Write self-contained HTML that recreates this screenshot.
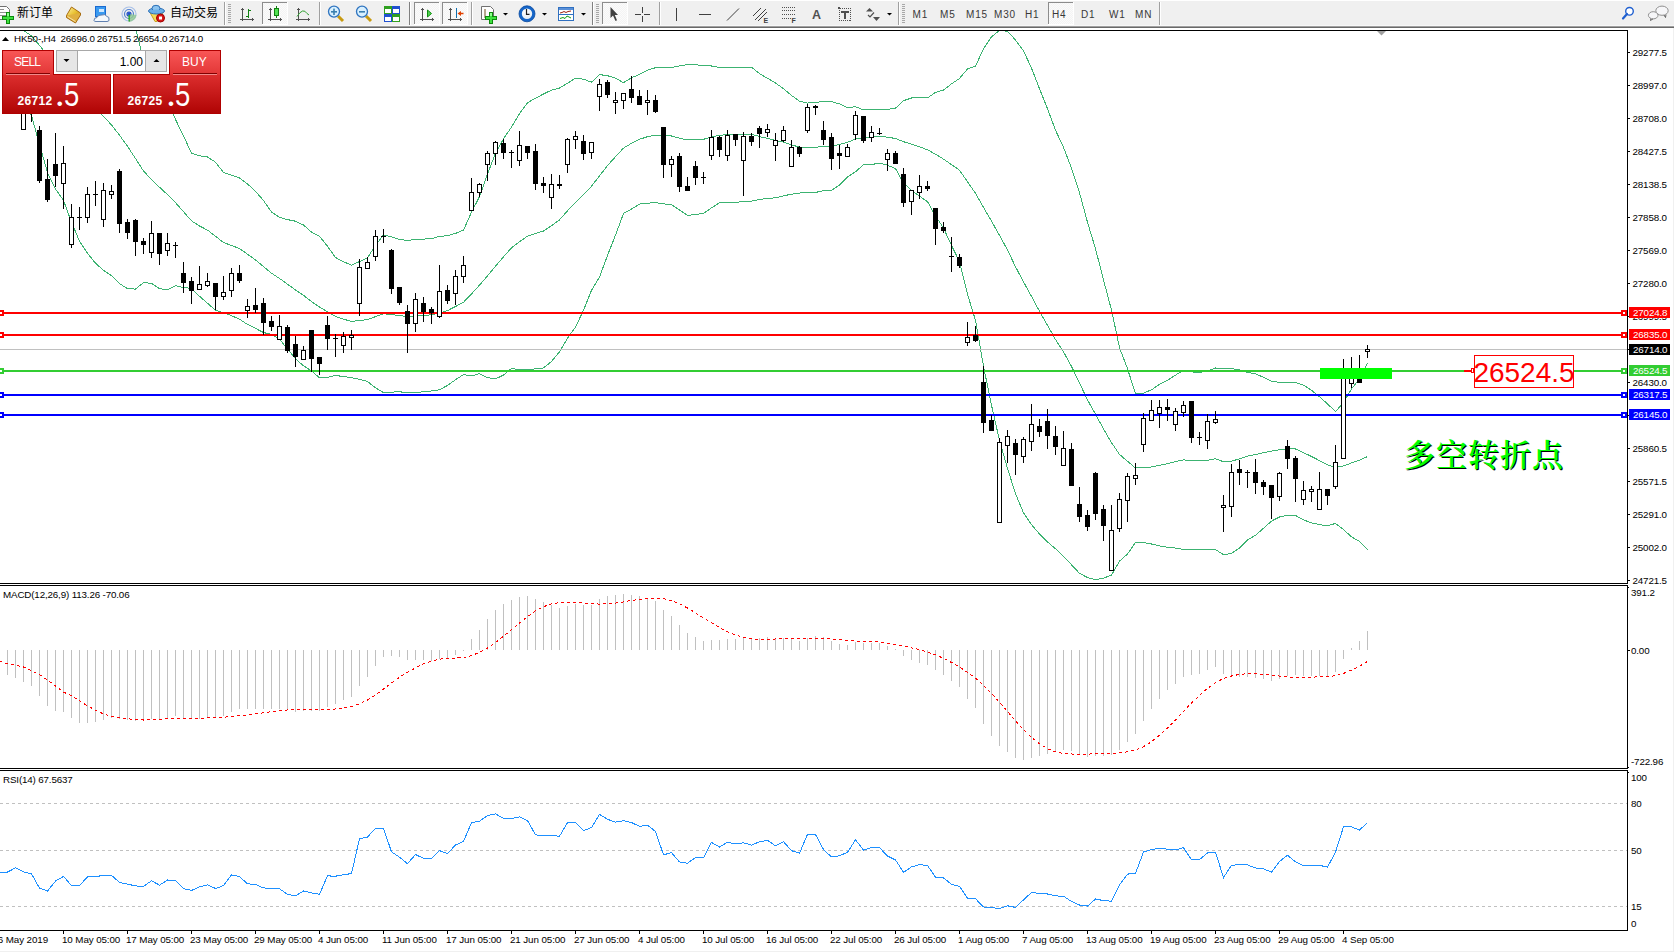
<!DOCTYPE html>
<html><head><meta charset="utf-8"><title>HK50-,H4</title>
<style>
html,body{margin:0;padding:0;}
body{width:1674px;height:952px;overflow:hidden;position:relative;background:#fff;font-family:"Liberation Sans","Noto Sans CJK SC",sans-serif;}
#tb{position:absolute;left:0;top:0;width:1674px;height:28px;background:#f0f0f0;}
#tb .b1{position:absolute;left:0;top:25px;width:1674px;height:1px;background:#f7f7f7}
#tb .b2{position:absolute;left:0;top:26px;width:1674px;height:1px;background:#a0a0a0}
#tb .b3{position:absolute;left:0;top:27px;width:1674px;height:1px;background:#696969}
</style></head><body>
<svg width="1674" height="952" viewBox="0 0 1674 952" style="position:absolute;left:0;top:0" shape-rendering="crispEdges">
<rect x="0" y="28" width="1674" height="924" fill="#fff"/>
<rect x="1673" y="27" width="1" height="925" fill="#f0f0f0"/>
<rect x="0" y="951" width="1674" height="1" fill="#f0f0f0"/>
<defs><clipPath id="cm"><rect x="0" y="31" width="1627" height="552"/></clipPath><clipPath id="cd"><rect x="0" y="586" width="1627" height="182"/></clipPath><clipPath id="cr"><rect x="0" y="771" width="1627" height="159"/></clipPath></defs>
<g clip-path="url(#cm)">
<polyline points="-0.5,-41.7 7.5,-42.2 15.5,-42.7 23.5,-43.6 31.5,-43.7 39.5,-53.8 47.5,-62.0 55.5,-60.0 63.5,-54.9 71.5,-56.7 79.5,-57.0 87.5,-53.6 95.5,-47.0 103.5,-37.5 111.5,-25.9 119.5,-13.1 127.5,3.8 135.5,27.9 143.5,59.5 151.5,75.4 159.5,85.7 167.5,99.6 175.5,119.5 183.5,135.8 191.5,153.3 199.5,155.7 207.5,157.0 215.5,162.1 223.5,172.6 231.5,175.2 239.5,178.0 247.5,183.9 255.5,191.4 263.5,200.5 271.5,212.0 279.5,217.4 287.5,219.6 295.5,221.2 303.5,225.0 311.5,232.1 319.5,236.3 327.5,246.2 335.5,257.5 343.5,261.8 351.5,265.1 359.5,261.6 367.5,257.7 375.5,245.4 383.5,235.0 391.5,236.9 399.5,239.5 407.5,240.4 415.5,239.6 423.5,239.1 431.5,238.6 439.5,236.4 447.5,235.7 455.5,233.4 463.5,230.1 471.5,212.1 479.5,196.7 487.5,174.1 495.5,153.3 503.5,138.8 511.5,127.1 519.5,113.6 527.5,102.8 535.5,98.2 543.5,94.0 551.5,90.1 559.5,88.0 567.5,83.3 575.5,78.2 583.5,79.2 591.5,82.2 599.5,74.6 607.5,75.7 615.5,78.2 623.5,82.7 631.5,77.7 639.5,74.5 647.5,70.1 655.5,67.7 663.5,67.4 671.5,67.4 679.5,66.0 687.5,64.6 695.5,64.9 703.5,65.3 711.5,66.0 719.5,67.5 727.5,67.3 735.5,67.4 743.5,67.1 751.5,67.1 759.5,73.6 767.5,78.3 775.5,83.0 783.5,88.7 791.5,95.4 799.5,101.3 807.5,103.1 815.5,102.3 823.5,101.6 831.5,101.7 839.5,103.9 847.5,107.6 855.5,106.7 863.5,110.0 871.5,109.7 879.5,109.5 887.5,109.3 895.5,108.2 903.5,100.7 911.5,98.0 919.5,97.5 927.5,97.9 935.5,92.4 943.5,90.1 951.5,83.8 959.5,78.5 967.5,68.9 975.5,66.3 983.5,48.7 991.5,36.9 999.5,30.4 1007.5,31.3 1015.5,40.0 1023.5,50.9 1031.5,68.1 1039.5,88.7 1047.5,108.8 1055.5,130.2 1063.5,147.3 1071.5,168.2 1079.5,192.8 1087.5,222.3 1095.5,248.7 1103.5,279.9 1111.5,310.1 1119.5,347.6 1127.5,368.7 1135.5,393.7 1143.5,393.1 1151.5,389.8 1159.5,384.4 1167.5,380.3 1175.5,375.1 1183.5,370.4 1191.5,371.9 1199.5,372.6 1207.5,371.0 1215.5,368.0 1223.5,368.8 1231.5,368.6 1239.5,369.8 1247.5,372.3 1255.5,373.9 1263.5,377.2 1271.5,381.1 1279.5,382.5 1287.5,382.6 1295.5,382.5 1303.5,385.2 1311.5,390.2 1319.5,396.8 1327.5,403.9 1335.5,411.6 1343.5,402.4 1351.5,388.9 1359.5,379.0 1367.5,363.3" fill="none" stroke="#3cb371" stroke-width="1" />
<polyline points="-0.5,16.3 7.5,20.7 15.5,25.2 23.5,30.4 31.5,35.9 39.5,45.3 47.5,55.3 55.5,64.5 63.5,72.8 71.5,82.8 79.5,92.1 87.5,99.8 95.5,108.1 103.5,116.4 111.5,124.9 119.5,135.2 127.5,146.3 135.5,158.5 143.5,171.1 151.5,179.4 159.5,187.2 167.5,194.6 175.5,202.6 183.5,211.7 191.5,220.8 199.5,226.0 207.5,230.1 215.5,236.2 223.5,242.6 231.5,245.4 239.5,248.6 247.5,254.2 255.5,259.9 263.5,266.5 271.5,273.2 279.5,278.4 287.5,284.2 295.5,290.0 303.5,295.3 311.5,301.6 319.5,307.0 327.5,311.8 335.5,316.4 343.5,319.2 351.5,321.4 359.5,320.5 367.5,319.6 375.5,316.6 383.5,313.8 391.5,314.5 399.5,315.6 407.5,316.5 415.5,316.0 423.5,315.5 431.5,314.8 439.5,313.1 447.5,310.6 455.5,306.5 463.5,302.3 471.5,294.0 479.5,285.1 487.5,275.9 495.5,266.1 503.5,256.9 511.5,247.8 519.5,241.7 527.5,236.2 535.5,233.5 543.5,231.0 551.5,225.8 559.5,219.9 567.5,210.8 575.5,202.6 583.5,194.7 591.5,186.2 599.5,175.9 607.5,165.6 615.5,156.7 623.5,148.1 631.5,143.3 639.5,139.3 647.5,136.7 655.5,135.1 663.5,135.7 671.5,136.0 679.5,138.1 687.5,140.0 695.5,139.7 703.5,139.3 711.5,137.0 719.5,135.1 727.5,134.9 735.5,135.0 743.5,134.2 751.5,134.1 759.5,136.6 767.5,138.4 775.5,140.4 783.5,142.2 791.5,144.8 799.5,147.2 807.5,147.6 815.5,147.4 823.5,146.1 831.5,146.0 839.5,144.5 847.5,142.3 855.5,139.2 863.5,137.4 871.5,137.1 879.5,136.3 887.5,137.2 895.5,138.5 903.5,141.7 911.5,144.2 919.5,146.8 927.5,149.8 935.5,154.2 943.5,159.1 951.5,164.6 959.5,170.2 967.5,181.7 975.5,193.3 983.5,207.4 991.5,221.1 999.5,235.4 1007.5,249.9 1015.5,266.8 1023.5,281.8 1031.5,296.4 1039.5,311.3 1047.5,325.3 1055.5,339.5 1063.5,351.8 1071.5,366.5 1079.5,383.0 1087.5,399.9 1095.5,414.2 1103.5,429.0 1111.5,442.6 1119.5,454.4 1127.5,461.3 1135.5,468.0 1143.5,467.9 1151.5,466.9 1159.5,465.2 1167.5,463.8 1175.5,461.6 1183.5,459.9 1191.5,460.6 1199.5,460.9 1207.5,460.2 1215.5,458.8 1223.5,461.7 1231.5,461.1 1239.5,458.9 1247.5,456.1 1255.5,454.6 1263.5,452.7 1271.5,451.1 1279.5,449.8 1287.5,448.8 1295.5,449.0 1303.5,452.6 1311.5,456.5 1319.5,460.6 1327.5,464.9 1335.5,467.5 1343.5,466.0 1351.5,462.9 1359.5,460.2 1367.5,456.6" fill="none" stroke="#3cb371" stroke-width="1" />
<polyline points="-0.5,74.3 7.5,83.7 15.5,93.0 23.5,104.3 31.5,115.6 39.5,144.4 47.5,172.6 55.5,189.0 63.5,200.4 71.5,222.3 79.5,241.2 87.5,253.2 95.5,263.2 103.5,270.4 111.5,275.7 119.5,283.5 127.5,288.7 135.5,289.1 143.5,282.6 151.5,283.3 159.5,288.7 167.5,289.6 175.5,285.7 183.5,287.6 191.5,288.3 199.5,296.3 207.5,303.2 215.5,310.3 223.5,312.6 231.5,315.7 239.5,319.2 247.5,324.4 255.5,328.4 263.5,332.5 271.5,334.5 279.5,339.3 287.5,348.9 295.5,358.9 303.5,365.7 311.5,371.0 319.5,377.7 327.5,377.3 335.5,375.4 343.5,376.6 351.5,377.6 359.5,379.4 367.5,381.5 375.5,387.8 383.5,392.6 391.5,392.1 399.5,391.8 407.5,392.6 415.5,392.4 423.5,391.8 431.5,391.0 439.5,389.7 447.5,385.5 455.5,379.7 463.5,374.6 471.5,376.0 479.5,373.6 487.5,377.7 495.5,378.9 503.5,375.1 511.5,368.5 519.5,369.8 527.5,369.6 535.5,368.9 543.5,367.9 551.5,361.5 559.5,351.9 567.5,338.2 575.5,327.0 583.5,310.2 591.5,290.3 599.5,277.1 607.5,255.4 615.5,235.2 623.5,213.5 631.5,209.0 639.5,204.1 647.5,203.2 655.5,202.5 663.5,203.9 671.5,204.7 679.5,210.1 687.5,215.4 695.5,214.5 703.5,213.3 711.5,207.9 719.5,202.8 727.5,202.5 735.5,202.7 743.5,201.3 751.5,201.2 759.5,199.6 767.5,198.4 775.5,197.8 783.5,195.8 791.5,194.2 799.5,193.1 807.5,192.1 815.5,192.5 823.5,190.6 831.5,190.4 839.5,185.0 847.5,177.0 855.5,171.8 863.5,164.7 871.5,164.5 879.5,163.2 887.5,165.2 895.5,168.7 903.5,182.8 911.5,190.5 919.5,196.2 927.5,201.6 935.5,215.9 943.5,228.1 951.5,245.3 959.5,261.8 967.5,294.4 975.5,320.3 983.5,366.2 991.5,405.2 999.5,440.5 1007.5,468.5 1015.5,493.7 1023.5,512.8 1031.5,524.7 1039.5,533.9 1047.5,541.9 1055.5,548.8 1063.5,556.3 1071.5,564.8 1079.5,573.3 1087.5,577.6 1095.5,579.7 1103.5,578.1 1111.5,575.2 1119.5,561.1 1127.5,554.0 1135.5,542.4 1143.5,542.6 1151.5,544.0 1159.5,545.9 1167.5,547.3 1175.5,548.1 1183.5,549.4 1191.5,549.2 1199.5,549.1 1207.5,549.4 1215.5,549.6 1223.5,554.6 1231.5,553.5 1239.5,548.0 1247.5,540.0 1255.5,535.3 1263.5,528.2 1271.5,521.1 1279.5,517.0 1287.5,515.1 1295.5,515.4 1303.5,519.9 1311.5,522.9 1319.5,524.5 1327.5,525.9 1335.5,523.4 1343.5,529.6 1351.5,536.9 1359.5,541.4 1367.5,549.8" fill="none" stroke="#3cb371" stroke-width="1" />
<rect x="0" y="349" width="1627" height="1" fill="#c0c0c0"/>
<rect x="0" y="312" width="1627" height="2" fill="#ff0000"/>
<rect x="0" y="334" width="1627" height="2" fill="#ff0000"/>
<rect x="0" y="370" width="1627" height="2" fill="#32cd32"/>
<rect x="0" y="394" width="1627" height="2" fill="#0000ff"/>
<rect x="0" y="414" width="1627" height="2" fill="#0000ff"/>
<rect x="7" y="75" width="1" height="26" fill="#000"/>
<rect x="5" y="80" width="5" height="16" fill="#000"/>
<rect x="15" y="80" width="1" height="26" fill="#000"/>
<rect x="13.5" y="85.5" width="4" height="15" fill="#fff" stroke="#000"/>
<rect x="23" y="95" width="1" height="35" fill="#000"/>
<rect x="21.5" y="100.5" width="4" height="29" fill="#fff" stroke="#000"/>
<rect x="31" y="96" width="1" height="26" fill="#000"/>
<rect x="29" y="100" width="5" height="9" fill="#000"/>
<rect x="39" y="126" width="1" height="57" fill="#000"/>
<rect x="37" y="130" width="5" height="51" fill="#000"/>
<rect x="47" y="159" width="1" height="43" fill="#000"/>
<rect x="45" y="179" width="5" height="21" fill="#000"/>
<rect x="55" y="133" width="1" height="54" fill="#000"/>
<rect x="53" y="164" width="5" height="12" fill="#000"/>
<rect x="63" y="146" width="1" height="63" fill="#000"/>
<rect x="61.5" y="163.5" width="4" height="20" fill="#fff" stroke="#000"/>
<rect x="71" y="204" width="1" height="44" fill="#000"/>
<rect x="69.5" y="217.5" width="4" height="27" fill="#fff" stroke="#000"/>
<rect x="79" y="207" width="1" height="23" fill="#000"/>
<rect x="77" y="217" width="5" height="1" fill="#000"/>
<rect x="87" y="187" width="1" height="36" fill="#000"/>
<rect x="85.5" y="194.5" width="4" height="23" fill="#fff" stroke="#000"/>
<rect x="95" y="181" width="1" height="25" fill="#000"/>
<rect x="93" y="194" width="5" height="1" fill="#000"/>
<rect x="103" y="183" width="1" height="44" fill="#000"/>
<rect x="101.5" y="190.5" width="4" height="29" fill="#fff" stroke="#000"/>
<rect x="111" y="185" width="1" height="14" fill="#000"/>
<rect x="109.5" y="191.5" width="4" height="3" fill="#fff" stroke="#000"/>
<rect x="119" y="169" width="1" height="64" fill="#000"/>
<rect x="117" y="171" width="5" height="53" fill="#000"/>
<rect x="127" y="219" width="1" height="20" fill="#000"/>
<rect x="125" y="222" width="5" height="11" fill="#000"/>
<rect x="135" y="219" width="1" height="37" fill="#000"/>
<rect x="133" y="220" width="5" height="22" fill="#000"/>
<rect x="143" y="238" width="1" height="16" fill="#000"/>
<rect x="141" y="241" width="5" height="4" fill="#000"/>
<rect x="151" y="221" width="1" height="37" fill="#000"/>
<rect x="149.5" y="233.5" width="4" height="19" fill="#fff" stroke="#000"/>
<rect x="159" y="233" width="1" height="32" fill="#000"/>
<rect x="157" y="233" width="5" height="21" fill="#000"/>
<rect x="167" y="233" width="1" height="23" fill="#000"/>
<rect x="165.5" y="243.5" width="4" height="7" fill="#fff" stroke="#000"/>
<rect x="175" y="242" width="1" height="16" fill="#000"/>
<rect x="173" y="245" width="5" height="1" fill="#000"/>
<rect x="183" y="262" width="1" height="31" fill="#000"/>
<rect x="181" y="273" width="5" height="10" fill="#000"/>
<rect x="191" y="277" width="1" height="27" fill="#000"/>
<rect x="189" y="281" width="5" height="10" fill="#000"/>
<rect x="199" y="266" width="1" height="24" fill="#000"/>
<rect x="197.5" y="284.5" width="4" height="5" fill="#fff" stroke="#000"/>
<rect x="207" y="273" width="1" height="14" fill="#000"/>
<rect x="205.5" y="281.5" width="4" height="4" fill="#fff" stroke="#000"/>
<rect x="215" y="283" width="1" height="27" fill="#000"/>
<rect x="213" y="283" width="5" height="14" fill="#000"/>
<rect x="223" y="276" width="1" height="24" fill="#000"/>
<rect x="221.5" y="292.5" width="4" height="4" fill="#fff" stroke="#000"/>
<rect x="231" y="268" width="1" height="29" fill="#000"/>
<rect x="229.5" y="273.5" width="4" height="17" fill="#fff" stroke="#000"/>
<rect x="239" y="265" width="1" height="18" fill="#000"/>
<rect x="237" y="273" width="5" height="8" fill="#000"/>
<rect x="247" y="299" width="1" height="19" fill="#000"/>
<rect x="245.5" y="306.5" width="4" height="4" fill="#fff" stroke="#000"/>
<rect x="255" y="288" width="1" height="25" fill="#000"/>
<rect x="253" y="305" width="5" height="5" fill="#000"/>
<rect x="263" y="298" width="1" height="37" fill="#000"/>
<rect x="261" y="303" width="5" height="20" fill="#000"/>
<rect x="271" y="316" width="1" height="15" fill="#000"/>
<rect x="269" y="321" width="5" height="6" fill="#000"/>
<rect x="279" y="315" width="1" height="25" fill="#000"/>
<rect x="277.5" y="326.5" width="4" height="13" fill="#fff" stroke="#000"/>
<rect x="287" y="325" width="1" height="28" fill="#000"/>
<rect x="285" y="327" width="5" height="24" fill="#000"/>
<rect x="295" y="336" width="1" height="31" fill="#000"/>
<rect x="293" y="344" width="5" height="13" fill="#000"/>
<rect x="303" y="346" width="1" height="14" fill="#000"/>
<rect x="301.5" y="350.5" width="4" height="9" fill="#fff" stroke="#000"/>
<rect x="311" y="330" width="1" height="42" fill="#000"/>
<rect x="309" y="330" width="5" height="29" fill="#000"/>
<rect x="319" y="357" width="1" height="18" fill="#000"/>
<rect x="317" y="357" width="5" height="7" fill="#000"/>
<rect x="327" y="316" width="1" height="34" fill="#000"/>
<rect x="325" y="325" width="5" height="14" fill="#000"/>
<rect x="335" y="334" width="1" height="23" fill="#000"/>
<rect x="333" y="338" width="5" height="1" fill="#000"/>
<rect x="343" y="332" width="1" height="21" fill="#000"/>
<rect x="341.5" y="336.5" width="4" height="9" fill="#fff" stroke="#000"/>
<rect x="351" y="330" width="1" height="20" fill="#000"/>
<rect x="349.5" y="335.5" width="4" height="2" fill="#fff" stroke="#000"/>
<rect x="359" y="259" width="1" height="57" fill="#000"/>
<rect x="357.5" y="267.5" width="4" height="36" fill="#fff" stroke="#000"/>
<rect x="367" y="257" width="1" height="12" fill="#000"/>
<rect x="365.5" y="262.5" width="4" height="6" fill="#fff" stroke="#000"/>
<rect x="375" y="230" width="1" height="31" fill="#000"/>
<rect x="373.5" y="236.5" width="4" height="20" fill="#fff" stroke="#000"/>
<rect x="383" y="229" width="1" height="14" fill="#000"/>
<rect x="381" y="236" width="5" height="1" fill="#000"/>
<rect x="391" y="249" width="1" height="45" fill="#000"/>
<rect x="389" y="250" width="5" height="39" fill="#000"/>
<rect x="399" y="287" width="1" height="18" fill="#000"/>
<rect x="397" y="287" width="5" height="16" fill="#000"/>
<rect x="407" y="305" width="1" height="48" fill="#000"/>
<rect x="405" y="311" width="5" height="13" fill="#000"/>
<rect x="415" y="293" width="1" height="39" fill="#000"/>
<rect x="413.5" y="299.5" width="4" height="24" fill="#fff" stroke="#000"/>
<rect x="423" y="297" width="1" height="25" fill="#000"/>
<rect x="421" y="303" width="5" height="9" fill="#000"/>
<rect x="431" y="307" width="1" height="17" fill="#000"/>
<rect x="429" y="309" width="5" height="4" fill="#000"/>
<rect x="439" y="265" width="1" height="53" fill="#000"/>
<rect x="437.5" y="291.5" width="4" height="25" fill="#fff" stroke="#000"/>
<rect x="447" y="285" width="1" height="19" fill="#000"/>
<rect x="445" y="290" width="5" height="11" fill="#000"/>
<rect x="455" y="270" width="1" height="35" fill="#000"/>
<rect x="453.5" y="276.5" width="4" height="17" fill="#fff" stroke="#000"/>
<rect x="463" y="256" width="1" height="27" fill="#000"/>
<rect x="461.5" y="265.5" width="4" height="11" fill="#fff" stroke="#000"/>
<rect x="471" y="178" width="1" height="33" fill="#000"/>
<rect x="469.5" y="192.5" width="4" height="18" fill="#fff" stroke="#000"/>
<rect x="479" y="183" width="1" height="14" fill="#000"/>
<rect x="477.5" y="184.5" width="4" height="8" fill="#fff" stroke="#000"/>
<rect x="487" y="151" width="1" height="30" fill="#000"/>
<rect x="485.5" y="153.5" width="4" height="11" fill="#fff" stroke="#000"/>
<rect x="495" y="141" width="1" height="24" fill="#000"/>
<rect x="493.5" y="142.5" width="4" height="11" fill="#fff" stroke="#000"/>
<rect x="503" y="139" width="1" height="20" fill="#000"/>
<rect x="501" y="143" width="5" height="10" fill="#000"/>
<rect x="511" y="150" width="1" height="18" fill="#000"/>
<rect x="509" y="152" width="5" height="1" fill="#000"/>
<rect x="519" y="131" width="1" height="35" fill="#000"/>
<rect x="517.5" y="145.5" width="4" height="15" fill="#fff" stroke="#000"/>
<rect x="527" y="146" width="1" height="13" fill="#000"/>
<rect x="525" y="146" width="5" height="7" fill="#000"/>
<rect x="535" y="144" width="1" height="46" fill="#000"/>
<rect x="533" y="151" width="5" height="33" fill="#000"/>
<rect x="543" y="177" width="1" height="16" fill="#000"/>
<rect x="541" y="183" width="5" height="3" fill="#000"/>
<rect x="551" y="174" width="1" height="35" fill="#000"/>
<rect x="549.5" y="184.5" width="4" height="13" fill="#fff" stroke="#000"/>
<rect x="559" y="175" width="1" height="14" fill="#000"/>
<rect x="557" y="184" width="5" height="2" fill="#000"/>
<rect x="567" y="138" width="1" height="35" fill="#000"/>
<rect x="565.5" y="139.5" width="4" height="25" fill="#fff" stroke="#000"/>
<rect x="575" y="131" width="1" height="18" fill="#000"/>
<rect x="573.5" y="136.5" width="4" height="3" fill="#fff" stroke="#000"/>
<rect x="583" y="135" width="1" height="25" fill="#000"/>
<rect x="581" y="141" width="5" height="13" fill="#000"/>
<rect x="591" y="142" width="1" height="17" fill="#000"/>
<rect x="589.5" y="142.5" width="4" height="10" fill="#fff" stroke="#000"/>
<rect x="599" y="79" width="1" height="32" fill="#000"/>
<rect x="597.5" y="84.5" width="4" height="12" fill="#fff" stroke="#000"/>
<rect x="607" y="80" width="1" height="18" fill="#000"/>
<rect x="605" y="82" width="5" height="13" fill="#000"/>
<rect x="615" y="92" width="1" height="22" fill="#000"/>
<rect x="613.5" y="100.5" width="4" height="2" fill="#fff" stroke="#000"/>
<rect x="623" y="93" width="1" height="16" fill="#000"/>
<rect x="621.5" y="93.5" width="4" height="7" fill="#fff" stroke="#000"/>
<rect x="631" y="76" width="1" height="27" fill="#000"/>
<rect x="629" y="89" width="5" height="9" fill="#000"/>
<rect x="639" y="90" width="1" height="15" fill="#000"/>
<rect x="637" y="96" width="5" height="9" fill="#000"/>
<rect x="647" y="90" width="1" height="25" fill="#000"/>
<rect x="645.5" y="100.5" width="4" height="2" fill="#fff" stroke="#000"/>
<rect x="655" y="95" width="1" height="18" fill="#000"/>
<rect x="653" y="100" width="5" height="12" fill="#000"/>
<rect x="663" y="127" width="1" height="51" fill="#000"/>
<rect x="661" y="127" width="5" height="38" fill="#000"/>
<rect x="671" y="156" width="1" height="21" fill="#000"/>
<rect x="669.5" y="159.5" width="4" height="5" fill="#fff" stroke="#000"/>
<rect x="679" y="153" width="1" height="39" fill="#000"/>
<rect x="677" y="156" width="5" height="31" fill="#000"/>
<rect x="687" y="177" width="1" height="14" fill="#000"/>
<rect x="685" y="186" width="5" height="5" fill="#000"/>
<rect x="695" y="161" width="1" height="24" fill="#000"/>
<rect x="693" y="166" width="5" height="12" fill="#000"/>
<rect x="703" y="172" width="1" height="12" fill="#000"/>
<rect x="701" y="177" width="5" height="1" fill="#000"/>
<rect x="711" y="130" width="1" height="30" fill="#000"/>
<rect x="709.5" y="137.5" width="4" height="18" fill="#fff" stroke="#000"/>
<rect x="719" y="136" width="1" height="21" fill="#000"/>
<rect x="717" y="137" width="5" height="13" fill="#000"/>
<rect x="727" y="130" width="1" height="31" fill="#000"/>
<rect x="725.5" y="135.5" width="4" height="20" fill="#fff" stroke="#000"/>
<rect x="735" y="134" width="1" height="12" fill="#000"/>
<rect x="733" y="134" width="5" height="6" fill="#000"/>
<rect x="743" y="132" width="1" height="64" fill="#000"/>
<rect x="741.5" y="136.5" width="4" height="24" fill="#fff" stroke="#000"/>
<rect x="751" y="133" width="1" height="13" fill="#000"/>
<rect x="749" y="136" width="5" height="6" fill="#000"/>
<rect x="759" y="126" width="1" height="22" fill="#000"/>
<rect x="757" y="128" width="5" height="6" fill="#000"/>
<rect x="767" y="124" width="1" height="13" fill="#000"/>
<rect x="765.5" y="129.5" width="4" height="3" fill="#fff" stroke="#000"/>
<rect x="775" y="133" width="1" height="28" fill="#000"/>
<rect x="773.5" y="140.5" width="4" height="5" fill="#fff" stroke="#000"/>
<rect x="783" y="126" width="1" height="16" fill="#000"/>
<rect x="781.5" y="130.5" width="4" height="10" fill="#fff" stroke="#000"/>
<rect x="791" y="140" width="1" height="27" fill="#000"/>
<rect x="789.5" y="147.5" width="4" height="19" fill="#fff" stroke="#000"/>
<rect x="799" y="146" width="1" height="11" fill="#000"/>
<rect x="797" y="147" width="5" height="7" fill="#000"/>
<rect x="807" y="104" width="1" height="29" fill="#000"/>
<rect x="805.5" y="107.5" width="4" height="23" fill="#fff" stroke="#000"/>
<rect x="815" y="105" width="1" height="10" fill="#000"/>
<rect x="813" y="106" width="5" height="2" fill="#000"/>
<rect x="823" y="121" width="1" height="24" fill="#000"/>
<rect x="821" y="130" width="5" height="10" fill="#000"/>
<rect x="831" y="133" width="1" height="37" fill="#000"/>
<rect x="829" y="137" width="5" height="22" fill="#000"/>
<rect x="839" y="145" width="1" height="24" fill="#000"/>
<rect x="837" y="153" width="5" height="3" fill="#000"/>
<rect x="847" y="144" width="1" height="13" fill="#000"/>
<rect x="845.5" y="147.5" width="4" height="9" fill="#fff" stroke="#000"/>
<rect x="855" y="111" width="1" height="29" fill="#000"/>
<rect x="853.5" y="115.5" width="4" height="19" fill="#fff" stroke="#000"/>
<rect x="863" y="116" width="1" height="27" fill="#000"/>
<rect x="861" y="116" width="5" height="25" fill="#000"/>
<rect x="871" y="126" width="1" height="16" fill="#000"/>
<rect x="869.5" y="132.5" width="4" height="5" fill="#fff" stroke="#000"/>
<rect x="879" y="128" width="1" height="7" fill="#000"/>
<rect x="877" y="133" width="5" height="1" fill="#000"/>
<rect x="887" y="149" width="1" height="22" fill="#000"/>
<rect x="885.5" y="153.5" width="4" height="6" fill="#fff" stroke="#000"/>
<rect x="895" y="151" width="1" height="13" fill="#000"/>
<rect x="893" y="153" width="5" height="11" fill="#000"/>
<rect x="903" y="168" width="1" height="39" fill="#000"/>
<rect x="901" y="174" width="5" height="29" fill="#000"/>
<rect x="911" y="190" width="1" height="25" fill="#000"/>
<rect x="909.5" y="190.5" width="4" height="11" fill="#fff" stroke="#000"/>
<rect x="919" y="175" width="1" height="24" fill="#000"/>
<rect x="917.5" y="186.5" width="4" height="6" fill="#fff" stroke="#000"/>
<rect x="927" y="181" width="1" height="10" fill="#000"/>
<rect x="925" y="186" width="5" height="3" fill="#000"/>
<rect x="935" y="208" width="1" height="37" fill="#000"/>
<rect x="933" y="208" width="5" height="21" fill="#000"/>
<rect x="943" y="222" width="1" height="11" fill="#000"/>
<rect x="941" y="227" width="5" height="4" fill="#000"/>
<rect x="951" y="237" width="1" height="35" fill="#000"/>
<rect x="949" y="256" width="5" height="1" fill="#000"/>
<rect x="959" y="254" width="1" height="14" fill="#000"/>
<rect x="957" y="257" width="5" height="9" fill="#000"/>
<rect x="967" y="322" width="1" height="24" fill="#000"/>
<rect x="965.5" y="337.5" width="4" height="5" fill="#fff" stroke="#000"/>
<rect x="975" y="326" width="1" height="16" fill="#000"/>
<rect x="973" y="335" width="5" height="6" fill="#000"/>
<rect x="983" y="366" width="1" height="67" fill="#000"/>
<rect x="981" y="382" width="5" height="41" fill="#000"/>
<rect x="991" y="415" width="1" height="16" fill="#000"/>
<rect x="989" y="420" width="5" height="11" fill="#000"/>
<rect x="999" y="438" width="1" height="85" fill="#000"/>
<rect x="997.5" y="442.5" width="4" height="80" fill="#fff" stroke="#000"/>
<rect x="1007" y="430" width="1" height="33" fill="#000"/>
<rect x="1005.5" y="436.5" width="4" height="9" fill="#fff" stroke="#000"/>
<rect x="1015" y="439" width="1" height="36" fill="#000"/>
<rect x="1013" y="443" width="5" height="12" fill="#000"/>
<rect x="1023" y="437" width="1" height="26" fill="#000"/>
<rect x="1021.5" y="439.5" width="4" height="17" fill="#fff" stroke="#000"/>
<rect x="1031" y="404" width="1" height="47" fill="#000"/>
<rect x="1029.5" y="424.5" width="4" height="17" fill="#fff" stroke="#000"/>
<rect x="1039" y="419" width="1" height="18" fill="#000"/>
<rect x="1037" y="426" width="5" height="6" fill="#000"/>
<rect x="1047" y="409" width="1" height="40" fill="#000"/>
<rect x="1045" y="421" width="5" height="15" fill="#000"/>
<rect x="1055" y="426" width="1" height="29" fill="#000"/>
<rect x="1053" y="436" width="5" height="11" fill="#000"/>
<rect x="1063" y="431" width="1" height="35" fill="#000"/>
<rect x="1061.5" y="448.5" width="4" height="17" fill="#fff" stroke="#000"/>
<rect x="1071" y="443" width="1" height="43" fill="#000"/>
<rect x="1069" y="449" width="5" height="37" fill="#000"/>
<rect x="1079" y="487" width="1" height="35" fill="#000"/>
<rect x="1077" y="504" width="5" height="13" fill="#000"/>
<rect x="1087" y="510" width="1" height="21" fill="#000"/>
<rect x="1085" y="515" width="5" height="12" fill="#000"/>
<rect x="1095" y="472" width="1" height="48" fill="#000"/>
<rect x="1093" y="473" width="5" height="41" fill="#000"/>
<rect x="1103" y="505" width="1" height="36" fill="#000"/>
<rect x="1101" y="509" width="5" height="17" fill="#000"/>
<rect x="1111" y="505" width="1" height="66" fill="#000"/>
<rect x="1109.5" y="530.5" width="4" height="40" fill="#fff" stroke="#000"/>
<rect x="1119" y="493" width="1" height="39" fill="#000"/>
<rect x="1117.5" y="499.5" width="4" height="29" fill="#fff" stroke="#000"/>
<rect x="1127" y="473" width="1" height="49" fill="#000"/>
<rect x="1125.5" y="476.5" width="4" height="24" fill="#fff" stroke="#000"/>
<rect x="1135" y="463" width="1" height="22" fill="#000"/>
<rect x="1133.5" y="475.5" width="4" height="3" fill="#fff" stroke="#000"/>
<rect x="1143" y="413" width="1" height="39" fill="#000"/>
<rect x="1141.5" y="418.5" width="4" height="26" fill="#fff" stroke="#000"/>
<rect x="1151" y="400" width="1" height="21" fill="#000"/>
<rect x="1149.5" y="410.5" width="4" height="10" fill="#fff" stroke="#000"/>
<rect x="1159" y="400" width="1" height="28" fill="#000"/>
<rect x="1157.5" y="407.5" width="4" height="6" fill="#fff" stroke="#000"/>
<rect x="1167" y="399" width="1" height="22" fill="#000"/>
<rect x="1165" y="407" width="5" height="3" fill="#000"/>
<rect x="1175" y="408" width="1" height="23" fill="#000"/>
<rect x="1173.5" y="411.5" width="4" height="13" fill="#fff" stroke="#000"/>
<rect x="1183" y="401" width="1" height="16" fill="#000"/>
<rect x="1181.5" y="405.5" width="4" height="7" fill="#fff" stroke="#000"/>
<rect x="1191" y="401" width="1" height="42" fill="#000"/>
<rect x="1189" y="401" width="5" height="37" fill="#000"/>
<rect x="1199" y="432" width="1" height="13" fill="#000"/>
<rect x="1197" y="437" width="5" height="1" fill="#000"/>
<rect x="1207" y="414" width="1" height="35" fill="#000"/>
<rect x="1205.5" y="421.5" width="4" height="19" fill="#fff" stroke="#000"/>
<rect x="1215" y="411" width="1" height="13" fill="#000"/>
<rect x="1213.5" y="419.5" width="4" height="3" fill="#fff" stroke="#000"/>
<rect x="1223" y="495" width="1" height="37" fill="#000"/>
<rect x="1221.5" y="505.5" width="4" height="2" fill="#fff" stroke="#000"/>
<rect x="1231" y="464" width="1" height="53" fill="#000"/>
<rect x="1229.5" y="472.5" width="4" height="34" fill="#fff" stroke="#000"/>
<rect x="1239" y="460" width="1" height="25" fill="#000"/>
<rect x="1237" y="469" width="5" height="4" fill="#000"/>
<rect x="1247" y="470" width="1" height="18" fill="#000"/>
<rect x="1245" y="472" width="5" height="1" fill="#000"/>
<rect x="1255" y="459" width="1" height="35" fill="#000"/>
<rect x="1253" y="472" width="5" height="11" fill="#000"/>
<rect x="1263" y="480" width="1" height="15" fill="#000"/>
<rect x="1261" y="482" width="5" height="5" fill="#000"/>
<rect x="1271" y="485" width="1" height="34" fill="#000"/>
<rect x="1269" y="485" width="5" height="13" fill="#000"/>
<rect x="1279" y="472" width="1" height="29" fill="#000"/>
<rect x="1277.5" y="473.5" width="4" height="23" fill="#fff" stroke="#000"/>
<rect x="1287" y="440" width="1" height="29" fill="#000"/>
<rect x="1285" y="446" width="5" height="13" fill="#000"/>
<rect x="1295" y="456" width="1" height="46" fill="#000"/>
<rect x="1293" y="458" width="5" height="21" fill="#000"/>
<rect x="1303" y="481" width="1" height="24" fill="#000"/>
<rect x="1301.5" y="490.5" width="4" height="9" fill="#fff" stroke="#000"/>
<rect x="1311" y="486" width="1" height="16" fill="#000"/>
<rect x="1309.5" y="489.5" width="4" height="2" fill="#fff" stroke="#000"/>
<rect x="1319" y="472" width="1" height="38" fill="#000"/>
<rect x="1317.5" y="489.5" width="4" height="20" fill="#fff" stroke="#000"/>
<rect x="1327" y="489" width="1" height="16" fill="#000"/>
<rect x="1325" y="489" width="5" height="7" fill="#000"/>
<rect x="1335" y="445" width="1" height="44" fill="#000"/>
<rect x="1333.5" y="462.5" width="4" height="24" fill="#fff" stroke="#000"/>
<rect x="1343" y="359" width="1" height="100" fill="#000"/>
<rect x="1341.5" y="375.5" width="4" height="83" fill="#fff" stroke="#000"/>
<rect x="1351" y="357" width="1" height="31" fill="#000"/>
<rect x="1349.5" y="375.5" width="4" height="8" fill="#fff" stroke="#000"/>
<rect x="1359" y="355" width="1" height="28" fill="#000"/>
<rect x="1357" y="375" width="5" height="8" fill="#000"/>
<rect x="1367" y="345" width="1" height="13" fill="#000"/>
<rect x="1365.5" y="349.5" width="4" height="2" fill="#fff" stroke="#000"/>
<rect x="1320" y="368" width="72" height="11" fill="#00ff00"/>
</g>
<rect x="-1" y="311" width="4" height="4" fill="#fff" stroke="#ff0000" stroke-width="2"/>
<rect x="1622" y="311" width="4" height="4" fill="#fff" stroke="#ff0000" stroke-width="2"/>
<rect x="-1" y="333" width="4" height="4" fill="#fff" stroke="#ff0000" stroke-width="2"/>
<rect x="1622" y="333" width="4" height="4" fill="#fff" stroke="#ff0000" stroke-width="2"/>
<rect x="-1" y="369" width="4" height="4" fill="#fff" stroke="#32cd32" stroke-width="2"/>
<rect x="1622" y="369" width="4" height="4" fill="#fff" stroke="#32cd32" stroke-width="2"/>
<rect x="-1" y="393" width="4" height="4" fill="#fff" stroke="#0000ff" stroke-width="2"/>
<rect x="1622" y="393" width="4" height="4" fill="#fff" stroke="#0000ff" stroke-width="2"/>
<rect x="-1" y="413" width="4" height="4" fill="#fff" stroke="#0000ff" stroke-width="2"/>
<rect x="1622" y="413" width="4" height="4" fill="#fff" stroke="#0000ff" stroke-width="2"/>
<rect x="1464" y="370" width="8" height="2" fill="#ff0000"/>
<rect x="1471.5" y="368.5" width="2" height="4" fill="#fff" stroke="#ff0000"/>
<rect x="1474.5" y="355.5" width="99" height="32" fill="#fff" stroke="#ff0000"/>
<text x="1524" y="382" font-family=""Liberation Sans", "Noto Sans CJK SC", sans-serif" font-size="28" fill="#ff0000" text-anchor="middle" shape-rendering="auto">26524.5</text>
<text x="1405" y="466.5" font-family="'Liberation Serif', 'Noto Serif CJK SC', serif" font-size="31" letter-spacing="1" font-weight="600" shape-rendering="auto" fill="#000">多空转折点</text>
<text x="1404" y="465.5" font-family="'Liberation Serif', 'Noto Serif CJK SC', serif" font-size="31" letter-spacing="1" font-weight="600" shape-rendering="auto" fill="#00ff00">多空转折点</text>
<polygon points="1376,30 1387,30 1381.5,35.5" fill="#a0a0a0" shape-rendering="auto"/>
<g clip-path="url(#cd)">
<rect x="7" y="650" width="1" height="25" fill="#c0c0c0"/>
<rect x="15" y="650" width="1" height="28" fill="#c0c0c0"/>
<rect x="23" y="650" width="1" height="32" fill="#c0c0c0"/>
<rect x="31" y="650" width="1" height="36" fill="#c0c0c0"/>
<rect x="39" y="650" width="1" height="46" fill="#c0c0c0"/>
<rect x="47" y="650" width="1" height="56" fill="#c0c0c0"/>
<rect x="55" y="650" width="1" height="61" fill="#c0c0c0"/>
<rect x="63" y="650" width="1" height="62" fill="#c0c0c0"/>
<rect x="71" y="650" width="1" height="68" fill="#c0c0c0"/>
<rect x="79" y="650" width="1" height="73" fill="#c0c0c0"/>
<rect x="87" y="650" width="1" height="73" fill="#c0c0c0"/>
<rect x="95" y="650" width="1" height="72" fill="#c0c0c0"/>
<rect x="103" y="650" width="1" height="70" fill="#c0c0c0"/>
<rect x="111" y="650" width="1" height="68" fill="#c0c0c0"/>
<rect x="119" y="650" width="1" height="69" fill="#c0c0c0"/>
<rect x="127" y="650" width="1" height="70" fill="#c0c0c0"/>
<rect x="135" y="650" width="1" height="71" fill="#c0c0c0"/>
<rect x="143" y="650" width="1" height="71" fill="#c0c0c0"/>
<rect x="151" y="650" width="1" height="69" fill="#c0c0c0"/>
<rect x="159" y="650" width="1" height="70" fill="#c0c0c0"/>
<rect x="167" y="650" width="1" height="68" fill="#c0c0c0"/>
<rect x="175" y="650" width="1" height="66" fill="#c0c0c0"/>
<rect x="183" y="650" width="1" height="68" fill="#c0c0c0"/>
<rect x="191" y="650" width="1" height="69" fill="#c0c0c0"/>
<rect x="199" y="650" width="1" height="69" fill="#c0c0c0"/>
<rect x="207" y="650" width="1" height="68" fill="#c0c0c0"/>
<rect x="215" y="650" width="1" height="68" fill="#c0c0c0"/>
<rect x="223" y="650" width="1" height="66" fill="#c0c0c0"/>
<rect x="231" y="650" width="1" height="62" fill="#c0c0c0"/>
<rect x="239" y="650" width="1" height="59" fill="#c0c0c0"/>
<rect x="247" y="650" width="1" height="59" fill="#c0c0c0"/>
<rect x="255" y="650" width="1" height="59" fill="#c0c0c0"/>
<rect x="263" y="650" width="1" height="59" fill="#c0c0c0"/>
<rect x="271" y="650" width="1" height="59" fill="#c0c0c0"/>
<rect x="279" y="650" width="1" height="59" fill="#c0c0c0"/>
<rect x="287" y="650" width="1" height="60" fill="#c0c0c0"/>
<rect x="295" y="650" width="1" height="62" fill="#c0c0c0"/>
<rect x="303" y="650" width="1" height="61" fill="#c0c0c0"/>
<rect x="311" y="650" width="1" height="61" fill="#c0c0c0"/>
<rect x="319" y="650" width="1" height="61" fill="#c0c0c0"/>
<rect x="327" y="650" width="1" height="57" fill="#c0c0c0"/>
<rect x="335" y="650" width="1" height="54" fill="#c0c0c0"/>
<rect x="343" y="650" width="1" height="50" fill="#c0c0c0"/>
<rect x="351" y="650" width="1" height="47" fill="#c0c0c0"/>
<rect x="359" y="650" width="1" height="36" fill="#c0c0c0"/>
<rect x="367" y="650" width="1" height="27" fill="#c0c0c0"/>
<rect x="375" y="650" width="1" height="16" fill="#c0c0c0"/>
<rect x="383" y="650" width="1" height="7" fill="#c0c0c0"/>
<rect x="391" y="650" width="1" height="6" fill="#c0c0c0"/>
<rect x="399" y="650" width="1" height="7" fill="#c0c0c0"/>
<rect x="407" y="650" width="1" height="10" fill="#c0c0c0"/>
<rect x="415" y="650" width="1" height="10" fill="#c0c0c0"/>
<rect x="423" y="650" width="1" height="10" fill="#c0c0c0"/>
<rect x="431" y="650" width="1" height="11" fill="#c0c0c0"/>
<rect x="439" y="650" width="1" height="9" fill="#c0c0c0"/>
<rect x="447" y="650" width="1" height="8" fill="#c0c0c0"/>
<rect x="455" y="650" width="1" height="5" fill="#c0c0c0"/>
<rect x="463" y="650" width="1" height="1" fill="#c0c0c0"/>
<rect x="471" y="639" width="1" height="11" fill="#c0c0c0"/>
<rect x="479" y="630" width="1" height="20" fill="#c0c0c0"/>
<rect x="487" y="619" width="1" height="31" fill="#c0c0c0"/>
<rect x="495" y="610" width="1" height="40" fill="#c0c0c0"/>
<rect x="503" y="604" width="1" height="46" fill="#c0c0c0"/>
<rect x="511" y="600" width="1" height="50" fill="#c0c0c0"/>
<rect x="519" y="597" width="1" height="53" fill="#c0c0c0"/>
<rect x="527" y="596" width="1" height="54" fill="#c0c0c0"/>
<rect x="535" y="599" width="1" height="51" fill="#c0c0c0"/>
<rect x="543" y="602" width="1" height="48" fill="#c0c0c0"/>
<rect x="551" y="605" width="1" height="45" fill="#c0c0c0"/>
<rect x="559" y="608" width="1" height="42" fill="#c0c0c0"/>
<rect x="567" y="606" width="1" height="44" fill="#c0c0c0"/>
<rect x="575" y="604" width="1" height="46" fill="#c0c0c0"/>
<rect x="583" y="605" width="1" height="45" fill="#c0c0c0"/>
<rect x="591" y="605" width="1" height="45" fill="#c0c0c0"/>
<rect x="599" y="599" width="1" height="51" fill="#c0c0c0"/>
<rect x="607" y="596" width="1" height="54" fill="#c0c0c0"/>
<rect x="615" y="595" width="1" height="55" fill="#c0c0c0"/>
<rect x="623" y="594" width="1" height="56" fill="#c0c0c0"/>
<rect x="631" y="595" width="1" height="55" fill="#c0c0c0"/>
<rect x="639" y="596" width="1" height="54" fill="#c0c0c0"/>
<rect x="647" y="598" width="1" height="52" fill="#c0c0c0"/>
<rect x="655" y="601" width="1" height="49" fill="#c0c0c0"/>
<rect x="663" y="610" width="1" height="40" fill="#c0c0c0"/>
<rect x="671" y="616" width="1" height="34" fill="#c0c0c0"/>
<rect x="679" y="625" width="1" height="25" fill="#c0c0c0"/>
<rect x="687" y="633" width="1" height="17" fill="#c0c0c0"/>
<rect x="695" y="637" width="1" height="13" fill="#c0c0c0"/>
<rect x="703" y="641" width="1" height="9" fill="#c0c0c0"/>
<rect x="711" y="640" width="1" height="10" fill="#c0c0c0"/>
<rect x="719" y="640" width="1" height="10" fill="#c0c0c0"/>
<rect x="727" y="639" width="1" height="11" fill="#c0c0c0"/>
<rect x="735" y="639" width="1" height="11" fill="#c0c0c0"/>
<rect x="743" y="638" width="1" height="12" fill="#c0c0c0"/>
<rect x="751" y="638" width="1" height="12" fill="#c0c0c0"/>
<rect x="759" y="638" width="1" height="12" fill="#c0c0c0"/>
<rect x="767" y="637" width="1" height="13" fill="#c0c0c0"/>
<rect x="775" y="638" width="1" height="12" fill="#c0c0c0"/>
<rect x="783" y="638" width="1" height="12" fill="#c0c0c0"/>
<rect x="791" y="639" width="1" height="11" fill="#c0c0c0"/>
<rect x="799" y="641" width="1" height="9" fill="#c0c0c0"/>
<rect x="807" y="638" width="1" height="12" fill="#c0c0c0"/>
<rect x="815" y="636" width="1" height="14" fill="#c0c0c0"/>
<rect x="823" y="637" width="1" height="13" fill="#c0c0c0"/>
<rect x="831" y="641" width="1" height="9" fill="#c0c0c0"/>
<rect x="839" y="644" width="1" height="6" fill="#c0c0c0"/>
<rect x="847" y="645" width="1" height="5" fill="#c0c0c0"/>
<rect x="855" y="642" width="1" height="8" fill="#c0c0c0"/>
<rect x="863" y="643" width="1" height="7" fill="#c0c0c0"/>
<rect x="871" y="643" width="1" height="7" fill="#c0c0c0"/>
<rect x="879" y="643" width="1" height="7" fill="#c0c0c0"/>
<rect x="887" y="646" width="1" height="4" fill="#c0c0c0"/>
<rect x="895" y="649" width="1" height="1" fill="#c0c0c0"/>
<rect x="903" y="650" width="1" height="6" fill="#c0c0c0"/>
<rect x="911" y="650" width="1" height="10" fill="#c0c0c0"/>
<rect x="919" y="650" width="1" height="13" fill="#c0c0c0"/>
<rect x="927" y="650" width="1" height="15" fill="#c0c0c0"/>
<rect x="935" y="650" width="1" height="20" fill="#c0c0c0"/>
<rect x="943" y="650" width="1" height="25" fill="#c0c0c0"/>
<rect x="951" y="650" width="1" height="31" fill="#c0c0c0"/>
<rect x="959" y="650" width="1" height="37" fill="#c0c0c0"/>
<rect x="967" y="650" width="1" height="49" fill="#c0c0c0"/>
<rect x="975" y="650" width="1" height="58" fill="#c0c0c0"/>
<rect x="983" y="650" width="1" height="74" fill="#c0c0c0"/>
<rect x="991" y="650" width="1" height="86" fill="#c0c0c0"/>
<rect x="999" y="650" width="1" height="96" fill="#c0c0c0"/>
<rect x="1007" y="650" width="1" height="102" fill="#c0c0c0"/>
<rect x="1015" y="650" width="1" height="108" fill="#c0c0c0"/>
<rect x="1023" y="650" width="1" height="110" fill="#c0c0c0"/>
<rect x="1031" y="650" width="1" height="108" fill="#c0c0c0"/>
<rect x="1039" y="650" width="1" height="106" fill="#c0c0c0"/>
<rect x="1047" y="650" width="1" height="104" fill="#c0c0c0"/>
<rect x="1055" y="650" width="1" height="102" fill="#c0c0c0"/>
<rect x="1063" y="650" width="1" height="100" fill="#c0c0c0"/>
<rect x="1071" y="650" width="1" height="101" fill="#c0c0c0"/>
<rect x="1079" y="650" width="1" height="104" fill="#c0c0c0"/>
<rect x="1087" y="650" width="1" height="107" fill="#c0c0c0"/>
<rect x="1095" y="650" width="1" height="106" fill="#c0c0c0"/>
<rect x="1103" y="650" width="1" height="106" fill="#c0c0c0"/>
<rect x="1111" y="650" width="1" height="105" fill="#c0c0c0"/>
<rect x="1119" y="650" width="1" height="100" fill="#c0c0c0"/>
<rect x="1127" y="650" width="1" height="92" fill="#c0c0c0"/>
<rect x="1135" y="650" width="1" height="84" fill="#c0c0c0"/>
<rect x="1143" y="650" width="1" height="71" fill="#c0c0c0"/>
<rect x="1151" y="650" width="1" height="59" fill="#c0c0c0"/>
<rect x="1159" y="650" width="1" height="49" fill="#c0c0c0"/>
<rect x="1167" y="650" width="1" height="40" fill="#c0c0c0"/>
<rect x="1175" y="650" width="1" height="34" fill="#c0c0c0"/>
<rect x="1183" y="650" width="1" height="27" fill="#c0c0c0"/>
<rect x="1191" y="650" width="1" height="25" fill="#c0c0c0"/>
<rect x="1199" y="650" width="1" height="24" fill="#c0c0c0"/>
<rect x="1207" y="650" width="1" height="20" fill="#c0c0c0"/>
<rect x="1215" y="650" width="1" height="17" fill="#c0c0c0"/>
<rect x="1223" y="650" width="1" height="24" fill="#c0c0c0"/>
<rect x="1231" y="650" width="1" height="26" fill="#c0c0c0"/>
<rect x="1239" y="650" width="1" height="27" fill="#c0c0c0"/>
<rect x="1247" y="650" width="1" height="27" fill="#c0c0c0"/>
<rect x="1255" y="650" width="1" height="28" fill="#c0c0c0"/>
<rect x="1263" y="650" width="1" height="29" fill="#c0c0c0"/>
<rect x="1271" y="650" width="1" height="31" fill="#c0c0c0"/>
<rect x="1279" y="650" width="1" height="29" fill="#c0c0c0"/>
<rect x="1287" y="650" width="1" height="26" fill="#c0c0c0"/>
<rect x="1295" y="650" width="1" height="25" fill="#c0c0c0"/>
<rect x="1303" y="650" width="1" height="26" fill="#c0c0c0"/>
<rect x="1311" y="650" width="1" height="26" fill="#c0c0c0"/>
<rect x="1319" y="650" width="1" height="26" fill="#c0c0c0"/>
<rect x="1327" y="650" width="1" height="26" fill="#c0c0c0"/>
<rect x="1335" y="650" width="1" height="22" fill="#c0c0c0"/>
<rect x="1343" y="650" width="1" height="9" fill="#c0c0c0"/>
<rect x="1351" y="648" width="1" height="2" fill="#c0c0c0"/>
<rect x="1359" y="641" width="1" height="9" fill="#c0c0c0"/>
<rect x="1367" y="631" width="1" height="19" fill="#c0c0c0"/>
<polyline points="-0.5,661.3 7.5,663.8 15.5,665.3 23.5,667.0 31.5,670.8 39.5,674.5 47.5,680.3 55.5,685.9 63.5,692.1 71.5,695.6 79.5,700.9 87.5,705.8 95.5,710.2 103.5,713.9 111.5,716.3 119.5,717.7 127.5,718.7 135.5,719.7 143.5,720.0 151.5,719.7 159.5,719.3 167.5,718.9 175.5,718.4 183.5,718.4 191.5,718.5 199.5,718.4 207.5,718.0 215.5,717.6 223.5,717.3 231.5,716.5 239.5,715.6 247.5,714.9 255.5,713.9 263.5,712.8 271.5,711.7 279.5,710.8 287.5,710.0 295.5,709.5 303.5,709.4 311.5,709.6 319.5,709.7 327.5,709.6 335.5,709.0 343.5,707.9 351.5,706.6 359.5,703.9 367.5,700.0 375.5,694.9 383.5,688.9 391.5,682.9 399.5,677.3 407.5,672.4 415.5,667.9 423.5,663.9 431.5,661.1 439.5,659.2 447.5,658.3 455.5,658.1 463.5,657.5 471.5,655.6 479.5,652.4 487.5,648.0 495.5,642.5 503.5,636.2 511.5,629.8 519.5,623.1 527.5,616.6 535.5,610.8 543.5,606.7 551.5,603.9 559.5,602.7 567.5,602.2 575.5,602.2 583.5,602.8 591.5,603.7 599.5,604.1 607.5,603.8 615.5,603.1 623.5,601.9 631.5,600.4 639.5,599.4 647.5,598.7 655.5,598.2 663.5,598.7 671.5,600.6 679.5,603.9 687.5,608.0 695.5,612.8 703.5,618.0 711.5,622.8 719.5,627.5 727.5,631.8 735.5,635.0 743.5,637.4 751.5,638.8 759.5,639.4 767.5,639.4 775.5,639.0 783.5,638.8 791.5,638.7 799.5,639.0 807.5,638.9 815.5,638.6 823.5,638.5 831.5,638.9 839.5,639.6 847.5,640.4 855.5,640.9 863.5,641.4 871.5,641.6 879.5,642.1 887.5,643.2 895.5,644.5 903.5,646.0 911.5,647.8 919.5,649.6 927.5,652.0 935.5,654.9 943.5,658.3 951.5,662.5 959.5,666.9 967.5,672.4 975.5,678.2 983.5,685.2 991.5,693.4 999.5,702.4 1007.5,711.5 1015.5,720.8 1023.5,729.5 1031.5,737.3 1039.5,743.7 1047.5,748.7 1055.5,751.9 1063.5,753.4 1071.5,754.0 1079.5,754.2 1087.5,754.1 1095.5,753.8 1103.5,753.5 1111.5,753.4 1119.5,753.0 1127.5,751.8 1135.5,750.0 1143.5,746.7 1151.5,741.7 1159.5,735.2 1167.5,727.9 1175.5,719.9 1183.5,711.3 1191.5,703.0 1199.5,695.5 1207.5,688.4 1215.5,682.4 1223.5,678.5 1231.5,676.0 1239.5,674.4 1247.5,673.7 1255.5,673.9 1263.5,674.3 1271.5,675.1 1279.5,676.1 1287.5,677.1 1295.5,677.2 1303.5,677.2 1311.5,677.1 1319.5,676.9 1327.5,676.6 1335.5,675.8 1343.5,673.4 1351.5,670.0 1359.5,666.2 1367.5,661.4" fill="none" stroke="#ff0000" stroke-width="1" stroke-dasharray="3,3"/>
</g>
<g clip-path="url(#cr)">
<line x1="0" y1="803.5" x2="1627" y2="803.5" stroke="#c0c0c0" stroke-width="1" stroke-dasharray="3,3"/>
<line x1="0" y1="850.5" x2="1627" y2="850.5" stroke="#c0c0c0" stroke-width="1" stroke-dasharray="3,3"/>
<line x1="0" y1="906.5" x2="1627" y2="906.5" stroke="#c0c0c0" stroke-width="1" stroke-dasharray="3,3"/>
<polyline points="-0.5,873.0 7.5,872.0 15.5,867.9 23.5,871.8 31.5,873.8 39.5,888.1 47.5,891.0 55.5,881.1 63.5,876.4 71.5,885.7 79.5,885.7 87.5,876.8 95.5,876.8 103.5,875.2 111.5,875.4 119.5,882.4 127.5,884.1 135.5,885.9 143.5,886.5 151.5,880.7 159.5,885.2 167.5,880.0 175.5,880.5 183.5,888.7 191.5,890.4 199.5,886.9 207.5,884.9 215.5,888.5 223.5,885.6 231.5,874.8 239.5,876.7 247.5,883.8 255.5,884.5 263.5,887.9 271.5,888.7 279.5,888.7 287.5,894.4 295.5,895.8 303.5,891.0 311.5,892.9 319.5,894.2 327.5,875.9 335.5,876.2 343.5,874.7 351.5,873.6 359.5,838.7 367.5,837.0 375.5,828.4 383.5,828.3 391.5,851.9 399.5,857.2 407.5,863.7 415.5,854.5 423.5,858.4 431.5,858.7 439.5,850.6 447.5,853.7 455.5,845.0 463.5,841.3 471.5,822.8 479.5,821.2 487.5,815.6 495.5,813.8 503.5,818.4 511.5,818.4 519.5,816.9 527.5,820.6 535.5,834.8 543.5,835.7 551.5,835.6 559.5,836.2 567.5,822.8 575.5,822.2 583.5,830.5 591.5,827.6 599.5,814.4 607.5,819.3 615.5,822.1 623.5,820.7 631.5,822.5 639.5,826.4 647.5,825.3 655.5,831.4 663.5,854.8 671.5,852.7 679.5,862.0 687.5,863.2 695.5,857.6 703.5,857.7 711.5,842.4 719.5,847.0 727.5,842.3 735.5,843.8 743.5,842.8 751.5,845.1 759.5,841.8 767.5,840.4 775.5,845.8 783.5,841.7 791.5,850.7 799.5,853.2 807.5,834.4 815.5,834.5 823.5,849.5 831.5,857.0 839.5,855.8 847.5,852.3 855.5,839.8 863.5,850.1 871.5,847.4 879.5,847.6 887.5,856.1 895.5,859.9 903.5,872.3 911.5,866.9 919.5,864.7 927.5,865.4 935.5,877.3 943.5,877.9 951.5,884.3 959.5,886.3 967.5,898.3 975.5,898.7 983.5,907.0 991.5,907.6 999.5,908.6 1007.5,905.8 1015.5,907.4 1023.5,899.9 1031.5,892.4 1039.5,893.4 1047.5,894.0 1055.5,895.9 1063.5,896.2 1071.5,901.4 1079.5,905.0 1087.5,906.1 1095.5,899.0 1103.5,900.6 1111.5,901.2 1119.5,884.8 1127.5,874.1 1135.5,873.4 1143.5,852.0 1151.5,849.5 1159.5,848.5 1167.5,849.1 1175.5,850.0 1183.5,847.7 1191.5,859.6 1199.5,859.6 1207.5,853.0 1215.5,852.1 1223.5,877.7 1231.5,865.1 1239.5,864.9 1247.5,864.9 1255.5,868.0 1263.5,868.8 1271.5,872.2 1279.5,861.5 1287.5,855.2 1295.5,861.8 1303.5,865.7 1311.5,865.3 1319.5,865.3 1327.5,867.2 1335.5,852.2 1343.5,826.9 1351.5,826.9 1359.5,830.0 1367.5,822.6" fill="none" stroke="#1e90ff" stroke-width="1"/>
</g>
<rect x="0" y="30" width="1628" height="1" fill="#000"/>
<rect x="0" y="583" width="1628" height="1" fill="#000"/>
<rect x="0" y="585" width="1628" height="1" fill="#000"/>
<rect x="0" y="768" width="1628" height="1" fill="#000"/>
<rect x="0" y="770" width="1628" height="1" fill="#000"/>
<rect x="0" y="930" width="1628" height="1" fill="#000"/>
<rect x="1627" y="30" width="1" height="554" fill="#000"/>
<rect x="1627" y="585" width="1" height="184" fill="#000"/>
<rect x="1627" y="770" width="1" height="161" fill="#000"/>
<rect x="1628" y="52" width="2" height="1" fill="#000"/>
<text x="1632.5" y="56" font-family=""Liberation Sans", "Noto Sans CJK SC", sans-serif" font-size="9.8" letter-spacing="-0.15" fill="#000" shape-rendering="auto">29277.5</text>
<rect x="1628" y="85" width="2" height="1" fill="#000"/>
<text x="1632.5" y="89" font-family=""Liberation Sans", "Noto Sans CJK SC", sans-serif" font-size="9.8" letter-spacing="-0.15" fill="#000" shape-rendering="auto">28997.0</text>
<rect x="1628" y="118" width="2" height="1" fill="#000"/>
<text x="1632.5" y="122" font-family=""Liberation Sans", "Noto Sans CJK SC", sans-serif" font-size="9.8" letter-spacing="-0.15" fill="#000" shape-rendering="auto">28708.0</text>
<rect x="1628" y="151" width="2" height="1" fill="#000"/>
<text x="1632.5" y="155" font-family=""Liberation Sans", "Noto Sans CJK SC", sans-serif" font-size="9.8" letter-spacing="-0.15" fill="#000" shape-rendering="auto">28427.5</text>
<rect x="1628" y="184" width="2" height="1" fill="#000"/>
<text x="1632.5" y="188" font-family=""Liberation Sans", "Noto Sans CJK SC", sans-serif" font-size="9.8" letter-spacing="-0.15" fill="#000" shape-rendering="auto">28138.5</text>
<rect x="1628" y="217" width="2" height="1" fill="#000"/>
<text x="1632.5" y="221" font-family=""Liberation Sans", "Noto Sans CJK SC", sans-serif" font-size="9.8" letter-spacing="-0.15" fill="#000" shape-rendering="auto">27858.0</text>
<rect x="1628" y="250" width="2" height="1" fill="#000"/>
<text x="1632.5" y="254" font-family=""Liberation Sans", "Noto Sans CJK SC", sans-serif" font-size="9.8" letter-spacing="-0.15" fill="#000" shape-rendering="auto">27569.0</text>
<rect x="1628" y="283" width="2" height="1" fill="#000"/>
<text x="1632.5" y="287" font-family=""Liberation Sans", "Noto Sans CJK SC", sans-serif" font-size="9.8" letter-spacing="-0.15" fill="#000" shape-rendering="auto">27280.0</text>
<rect x="1628" y="316" width="2" height="1" fill="#000"/>
<text x="1632.5" y="320" font-family=""Liberation Sans", "Noto Sans CJK SC", sans-serif" font-size="9.8" letter-spacing="-0.15" fill="#000" shape-rendering="auto">26999.5</text>
<rect x="1628" y="349" width="2" height="1" fill="#000"/>
<text x="1632.5" y="353" font-family=""Liberation Sans", "Noto Sans CJK SC", sans-serif" font-size="9.8" letter-spacing="-0.15" fill="#000" shape-rendering="auto">26710.5</text>
<rect x="1628" y="382" width="2" height="1" fill="#000"/>
<text x="1632.5" y="386" font-family=""Liberation Sans", "Noto Sans CJK SC", sans-serif" font-size="9.8" letter-spacing="-0.15" fill="#000" shape-rendering="auto">26430.0</text>
<rect x="1628" y="415" width="2" height="1" fill="#000"/>
<text x="1632.5" y="419" font-family=""Liberation Sans", "Noto Sans CJK SC", sans-serif" font-size="9.8" letter-spacing="-0.15" fill="#000" shape-rendering="auto">26141.0</text>
<rect x="1628" y="448" width="2" height="1" fill="#000"/>
<text x="1632.5" y="452" font-family=""Liberation Sans", "Noto Sans CJK SC", sans-serif" font-size="9.8" letter-spacing="-0.15" fill="#000" shape-rendering="auto">25860.5</text>
<rect x="1628" y="481" width="2" height="1" fill="#000"/>
<text x="1632.5" y="485" font-family=""Liberation Sans", "Noto Sans CJK SC", sans-serif" font-size="9.8" letter-spacing="-0.15" fill="#000" shape-rendering="auto">25571.5</text>
<rect x="1628" y="514" width="2" height="1" fill="#000"/>
<text x="1632.5" y="518" font-family=""Liberation Sans", "Noto Sans CJK SC", sans-serif" font-size="9.8" letter-spacing="-0.15" fill="#000" shape-rendering="auto">25291.0</text>
<rect x="1628" y="547" width="2" height="1" fill="#000"/>
<text x="1632.5" y="551" font-family=""Liberation Sans", "Noto Sans CJK SC", sans-serif" font-size="9.8" letter-spacing="-0.15" fill="#000" shape-rendering="auto">25002.0</text>
<rect x="1628" y="580" width="2" height="1" fill="#000"/>
<text x="1632.5" y="584" font-family=""Liberation Sans", "Noto Sans CJK SC", sans-serif" font-size="9.8" letter-spacing="-0.15" fill="#000" shape-rendering="auto">24721.5</text>
<rect x="1629" y="307" width="41" height="11" fill="#ff0000"/>
<text x="1633" y="316" font-family=""Liberation Sans", "Noto Sans CJK SC", sans-serif" font-size="9.8" letter-spacing="-0.15" fill="#fff" shape-rendering="auto">27024.8</text>
<rect x="1629" y="329" width="41" height="11" fill="#ff0000"/>
<text x="1633" y="338" font-family=""Liberation Sans", "Noto Sans CJK SC", sans-serif" font-size="9.8" letter-spacing="-0.15" fill="#fff" shape-rendering="auto">26835.0</text>
<rect x="1629" y="344" width="41" height="11" fill="#000000"/>
<text x="1633" y="353" font-family=""Liberation Sans", "Noto Sans CJK SC", sans-serif" font-size="9.8" letter-spacing="-0.15" fill="#fff" shape-rendering="auto">26714.0</text>
<rect x="1629" y="365" width="41" height="11" fill="#32cd32"/>
<text x="1633" y="374" font-family=""Liberation Sans", "Noto Sans CJK SC", sans-serif" font-size="9.8" letter-spacing="-0.15" fill="#fff" shape-rendering="auto">26524.5</text>
<rect x="1629" y="389" width="41" height="11" fill="#0000ff"/>
<text x="1633" y="398" font-family=""Liberation Sans", "Noto Sans CJK SC", sans-serif" font-size="9.8" letter-spacing="-0.15" fill="#fff" shape-rendering="auto">26317.5</text>
<rect x="1629" y="409" width="41" height="11" fill="#0000ff"/>
<text x="1633" y="418" font-family=""Liberation Sans", "Noto Sans CJK SC", sans-serif" font-size="9.8" letter-spacing="-0.15" fill="#fff" shape-rendering="auto">26145.0</text>
<rect x="1628" y="587" width="1" height="1" fill="#000"/><text x="1631" y="596" font-family=""Liberation Sans", "Noto Sans CJK SC", sans-serif" font-size="9.8" letter-spacing="-0.15" fill="#000" shape-rendering="auto">391.2</text>
<rect x="1628" y="650" width="2" height="1" fill="#000"/><text x="1631" y="654" font-family=""Liberation Sans", "Noto Sans CJK SC", sans-serif" font-size="9.8" letter-spacing="-0.15" fill="#000" shape-rendering="auto">0.00</text>
<rect x="1628" y="772" width="1" height="1" fill="#000"/><rect x="1628" y="767" width="1" height="1" fill="#000"/><text x="1631" y="765" font-family=""Liberation Sans", "Noto Sans CJK SC", sans-serif" font-size="9.8" letter-spacing="-0.15" fill="#000" shape-rendering="auto">-722.96</text>
<text x="1631" y="781" font-family=""Liberation Sans", "Noto Sans CJK SC", sans-serif" font-size="9.8" letter-spacing="-0.15" fill="#000" shape-rendering="auto">100</text>
<text x="1631" y="807" font-family=""Liberation Sans", "Noto Sans CJK SC", sans-serif" font-size="9.8" letter-spacing="-0.15" fill="#000" shape-rendering="auto">80</text>
<text x="1631" y="854" font-family=""Liberation Sans", "Noto Sans CJK SC", sans-serif" font-size="9.8" letter-spacing="-0.15" fill="#000" shape-rendering="auto">50</text>
<text x="1631" y="910" font-family=""Liberation Sans", "Noto Sans CJK SC", sans-serif" font-size="9.8" letter-spacing="-0.15" fill="#000" shape-rendering="auto">15</text>
<text x="1631" y="927" font-family=""Liberation Sans", "Noto Sans CJK SC", sans-serif" font-size="9.8" letter-spacing="-0.15" fill="#000" shape-rendering="auto">0</text>
<text x="-2.2" y="943" font-family=""Liberation Sans", "Noto Sans CJK SC", sans-serif" font-size="9.8" letter-spacing="-0.1" fill="#000" shape-rendering="auto">6 May 2019</text>
<rect x="63" y="931" width="1" height="3" fill="#000"/>
<text x="62" y="943" font-family=""Liberation Sans", "Noto Sans CJK SC", sans-serif" font-size="9.8" letter-spacing="-0.1" fill="#000" shape-rendering="auto">10 May 05:00</text>
<rect x="127" y="931" width="1" height="3" fill="#000"/>
<text x="126" y="943" font-family=""Liberation Sans", "Noto Sans CJK SC", sans-serif" font-size="9.8" letter-spacing="-0.1" fill="#000" shape-rendering="auto">17 May 05:00</text>
<rect x="191" y="931" width="1" height="3" fill="#000"/>
<text x="190" y="943" font-family=""Liberation Sans", "Noto Sans CJK SC", sans-serif" font-size="9.8" letter-spacing="-0.1" fill="#000" shape-rendering="auto">23 May 05:00</text>
<rect x="255" y="931" width="1" height="3" fill="#000"/>
<text x="254" y="943" font-family=""Liberation Sans", "Noto Sans CJK SC", sans-serif" font-size="9.8" letter-spacing="-0.1" fill="#000" shape-rendering="auto">29 May 05:00</text>
<rect x="319" y="931" width="1" height="3" fill="#000"/>
<text x="318" y="943" font-family=""Liberation Sans", "Noto Sans CJK SC", sans-serif" font-size="9.8" letter-spacing="-0.1" fill="#000" shape-rendering="auto">4 Jun 05:00</text>
<rect x="383" y="931" width="1" height="3" fill="#000"/>
<text x="382" y="943" font-family=""Liberation Sans", "Noto Sans CJK SC", sans-serif" font-size="9.8" letter-spacing="-0.1" fill="#000" shape-rendering="auto">11 Jun 05:00</text>
<rect x="447" y="931" width="1" height="3" fill="#000"/>
<text x="446" y="943" font-family=""Liberation Sans", "Noto Sans CJK SC", sans-serif" font-size="9.8" letter-spacing="-0.1" fill="#000" shape-rendering="auto">17 Jun 05:00</text>
<rect x="511" y="931" width="1" height="3" fill="#000"/>
<text x="510" y="943" font-family=""Liberation Sans", "Noto Sans CJK SC", sans-serif" font-size="9.8" letter-spacing="-0.1" fill="#000" shape-rendering="auto">21 Jun 05:00</text>
<rect x="575" y="931" width="1" height="3" fill="#000"/>
<text x="574" y="943" font-family=""Liberation Sans", "Noto Sans CJK SC", sans-serif" font-size="9.8" letter-spacing="-0.1" fill="#000" shape-rendering="auto">27 Jun 05:00</text>
<rect x="639" y="931" width="1" height="3" fill="#000"/>
<text x="638" y="943" font-family=""Liberation Sans", "Noto Sans CJK SC", sans-serif" font-size="9.8" letter-spacing="-0.1" fill="#000" shape-rendering="auto">4 Jul 05:00</text>
<rect x="703" y="931" width="1" height="3" fill="#000"/>
<text x="702" y="943" font-family=""Liberation Sans", "Noto Sans CJK SC", sans-serif" font-size="9.8" letter-spacing="-0.1" fill="#000" shape-rendering="auto">10 Jul 05:00</text>
<rect x="767" y="931" width="1" height="3" fill="#000"/>
<text x="766" y="943" font-family=""Liberation Sans", "Noto Sans CJK SC", sans-serif" font-size="9.8" letter-spacing="-0.1" fill="#000" shape-rendering="auto">16 Jul 05:00</text>
<rect x="831" y="931" width="1" height="3" fill="#000"/>
<text x="830" y="943" font-family=""Liberation Sans", "Noto Sans CJK SC", sans-serif" font-size="9.8" letter-spacing="-0.1" fill="#000" shape-rendering="auto">22 Jul 05:00</text>
<rect x="895" y="931" width="1" height="3" fill="#000"/>
<text x="894" y="943" font-family=""Liberation Sans", "Noto Sans CJK SC", sans-serif" font-size="9.8" letter-spacing="-0.1" fill="#000" shape-rendering="auto">26 Jul 05:00</text>
<rect x="959" y="931" width="1" height="3" fill="#000"/>
<text x="958" y="943" font-family=""Liberation Sans", "Noto Sans CJK SC", sans-serif" font-size="9.8" letter-spacing="-0.1" fill="#000" shape-rendering="auto">1 Aug 05:00</text>
<rect x="1023" y="931" width="1" height="3" fill="#000"/>
<text x="1022" y="943" font-family=""Liberation Sans", "Noto Sans CJK SC", sans-serif" font-size="9.8" letter-spacing="-0.1" fill="#000" shape-rendering="auto">7 Aug 05:00</text>
<rect x="1087" y="931" width="1" height="3" fill="#000"/>
<text x="1086" y="943" font-family=""Liberation Sans", "Noto Sans CJK SC", sans-serif" font-size="9.8" letter-spacing="-0.1" fill="#000" shape-rendering="auto">13 Aug 05:00</text>
<rect x="1151" y="931" width="1" height="3" fill="#000"/>
<text x="1150" y="943" font-family=""Liberation Sans", "Noto Sans CJK SC", sans-serif" font-size="9.8" letter-spacing="-0.1" fill="#000" shape-rendering="auto">19 Aug 05:00</text>
<rect x="1215" y="931" width="1" height="3" fill="#000"/>
<text x="1214" y="943" font-family=""Liberation Sans", "Noto Sans CJK SC", sans-serif" font-size="9.8" letter-spacing="-0.1" fill="#000" shape-rendering="auto">23 Aug 05:00</text>
<rect x="1279" y="931" width="1" height="3" fill="#000"/>
<text x="1278" y="943" font-family=""Liberation Sans", "Noto Sans CJK SC", sans-serif" font-size="9.8" letter-spacing="-0.1" fill="#000" shape-rendering="auto">29 Aug 05:00</text>
<rect x="1343" y="931" width="1" height="3" fill="#000"/>
<text x="1342" y="943" font-family=""Liberation Sans", "Noto Sans CJK SC", sans-serif" font-size="9.8" letter-spacing="-0.1" fill="#000" shape-rendering="auto">4 Sep 05:00</text>
<text x="3" y="598" font-family=""Liberation Sans", "Noto Sans CJK SC", sans-serif" font-size="9.8" letter-spacing="-0.15" fill="#000" shape-rendering="auto">MACD(12,26,9) 113.26 -70.06</text>
<text x="3" y="783" font-family=""Liberation Sans", "Noto Sans CJK SC", sans-serif" font-size="9.8" letter-spacing="-0.15" fill="#000" shape-rendering="auto">RSI(14) 67.5637</text>
<polygon points="2,41 9,41 5.5,37" fill="#000" shape-rendering="auto"/>
<text x="14" y="42" font-family=""Liberation Sans", "Noto Sans CJK SC", sans-serif" font-size="9.8" letter-spacing="-0.15" fill="#000" shape-rendering="auto">HK50-,H4</text><text x="60.5" y="42" font-family=""Liberation Sans", "Noto Sans CJK SC", sans-serif" font-size="9.8" letter-spacing="-0.15" fill="#000" shape-rendering="auto">26696.0</text><text x="96.8" y="42" font-family=""Liberation Sans", "Noto Sans CJK SC", sans-serif" font-size="9.8" letter-spacing="-0.15" fill="#000" shape-rendering="auto">26751.5</text><text x="132.9" y="42" font-family=""Liberation Sans", "Noto Sans CJK SC", sans-serif" font-size="9.8" letter-spacing="-0.15" fill="#000" shape-rendering="auto">26654.0</text><text x="168.8" y="42" font-family=""Liberation Sans", "Noto Sans CJK SC", sans-serif" font-size="9.8" letter-spacing="-0.15" fill="#000" shape-rendering="auto">26714.0</text>
</svg>
<svg width="1674" height="28" viewBox="0 0 1674 28" style="position:absolute;left:0;top:0">
<defs><pattern id="chk" width="2" height="2" patternUnits="userSpaceOnUse"><rect width="2" height="2" fill="#f4f4f4"/><rect width="1" height="1" fill="#fbfbfb"/><rect x="1" y="1" width="1" height="1" fill="#fbfbfb"/></pattern><linearGradient id="gplus" x1="0" y1="0" x2="0" y2="1"><stop offset="0" stop-color="#7dff7d"/><stop offset="1" stop-color="#10c010"/></linearGradient><linearGradient id="ggold" x1="0" y1="0" x2="1" y2="1"><stop offset="0" stop-color="#fff0a0"/><stop offset=".5" stop-color="#e8c030"/><stop offset="1" stop-color="#b07010"/></linearGradient><radialGradient id="gclk" cx=".4" cy=".35" r=".7"><stop offset="0" stop-color="#ffffff"/><stop offset="1" stop-color="#dfe8f0"/></radialGradient></defs>
<rect x="0" y="0" width="1674" height="28" fill="#f0f0f0"/>
<rect x="0" y="0" width="1674" height="1" fill="#ffffff"/>
<rect x="0" y="25" width="1674" height="1" fill="#f7f7f7"/>
<rect x="0" y="26" width="1674" height="1" fill="#a0a0a0"/>
<rect x="0" y="27" width="1674" height="1" fill="#696969"/>
<path d="M-0.5 6.5 h7 l3 3 v10 h-10 z" fill="#fdfdfd" stroke="#707070" stroke-width="1"/>
<g fill="#909090" shape-rendering="crispEdges"><rect x="0" y="9" width="4" height="1"/><rect x="0" y="12" width="6" height="1"/><rect x="0" y="15" width="6" height="1"/></g>
<g shape-rendering="crispEdges"><rect x="6" y="12" width="4" height="12" fill="#0c8a0c"/><rect x="2" y="16" width="12" height="4" fill="#0c8a0c"/><rect x="7" y="13" width="2" height="10" fill="#3ee03e"/><rect x="3" y="17" width="10" height="2" fill="#3ee03e"/><rect x="7" y="13" width="2" height="3" fill="#8cff8c"/></g>
<text x="17" y="17" font-family="'Liberation Sans', 'Noto Sans CJK SC', sans-serif" font-size="12" fill="#000">新订单</text>
<path d="M66.5 15.5 L71.5 7 L80.5 13 L75.5 21.5 Z" fill="url(#ggold)" stroke="#a86c10" stroke-width="1"/>
<path d="M66.5 15.5 L66.5 17.5 L75.5 23 L80.5 15 L80.5 13" fill="#e0b040" stroke="#a86c10" stroke-width="1"/><path d="M67.5 16.5 L75.5 21.5" stroke="#fff2c0" stroke-width="0.8"/>
<rect x="95.5" y="6.5" width="10" height="10" fill="#3a9af0" stroke="#1a6ad0"/><rect x="99" y="9" width="5" height="3" fill="#cfe8ff"/>
<path d="M94 20.5 q0 -3 3 -3 q1 -3 5 -2.5 q3 -1.5 5 1.5 q2.5 0 2 3.5 q0 1.5 -2 1.5 h-11 q-2 0 -2 -1 z" fill="#f4f8fc" stroke="#6080b0" stroke-width="1"/>
<g fill="none" stroke-width="1.2"><circle cx="129" cy="14" r="7" stroke="#a8c0e8"/><circle cx="129" cy="14" r="4.5" stroke="#5080d0"/><circle cx="129" cy="14" r="2" stroke="#2050c0"/></g>
<path d="M129 14 L129 22 A8 8 0 0 0 136.5 15 Z" fill="#90c890" opacity="0.8"/><rect x="128.5" y="13.5" width="1.3" height="8" fill="#20a020"/><circle cx="129" cy="13.5" r="1.5" fill="#2050d0"/>
<path d="M150 12.5 L163 12.5 L157 21.5 L155 21.5 Z" fill="#f4dc58" stroke="#c8a020"/>
<ellipse cx="156.5" cy="11" rx="8" ry="3" fill="#6cb0e8" stroke="#2c70b8"/><ellipse cx="156" cy="8.3" rx="4" ry="3" fill="#8cc4f0" stroke="#2c70b8"/><ellipse cx="156.5" cy="11.2" rx="6.5" ry="1.6" fill="#6cb0e8"/>
<circle cx="160.5" cy="18" r="4" fill="#d81818" stroke="#a00000"/><rect x="159" y="16.5" width="3" height="3" fill="#fff"/>
<text x="170" y="17" font-family="'Liberation Sans', 'Noto Sans CJK SC', sans-serif" font-size="12" fill="#000">自动交易</text>
<rect x="224" y="2" width="1" height="23" fill="#a0a0a0" shape-rendering="crispEdges"/><rect x="225" y="2" width="1" height="23" fill="#ffffff" shape-rendering="crispEdges"/>
<rect x="228" y="4" width="3" height="1" fill="#a8a8a8" shape-rendering="crispEdges"/>
<rect x="228" y="6" width="3" height="1" fill="#a8a8a8" shape-rendering="crispEdges"/>
<rect x="228" y="8" width="3" height="1" fill="#a8a8a8" shape-rendering="crispEdges"/>
<rect x="228" y="10" width="3" height="1" fill="#a8a8a8" shape-rendering="crispEdges"/>
<rect x="228" y="12" width="3" height="1" fill="#a8a8a8" shape-rendering="crispEdges"/>
<rect x="228" y="14" width="3" height="1" fill="#a8a8a8" shape-rendering="crispEdges"/>
<rect x="228" y="16" width="3" height="1" fill="#a8a8a8" shape-rendering="crispEdges"/>
<rect x="228" y="18" width="3" height="1" fill="#a8a8a8" shape-rendering="crispEdges"/>
<rect x="228" y="20" width="3" height="1" fill="#a8a8a8" shape-rendering="crispEdges"/>
<rect x="228" y="22" width="3" height="1" fill="#a8a8a8" shape-rendering="crispEdges"/>
<g fill="#505050" shape-rendering="crispEdges"><rect x="242" y="8" width="1" height="13"/><rect x="240" y="19" width="14" height="1"/><rect x="241" y="9" width="3" height="1"/><rect x="252" y="18" width="1" height="3"/></g>
<g fill="#108010" shape-rendering="crispEdges"><rect x="248" y="9" width="1" height="9"/><rect x="246" y="16" width="2" height="1"/><rect x="249" y="10" width="2" height="1"/></g>
<rect x="262" y="2" width="25" height="22" fill="url(#chk)" shape-rendering="crispEdges"/>
<rect x="262" y="2" width="25" height="1" fill="#8c8c8c" shape-rendering="crispEdges"/>
<rect x="262" y="2" width="1" height="22" fill="#8c8c8c" shape-rendering="crispEdges"/>
<rect x="287" y="2" width="1" height="22" fill="#ffffff" shape-rendering="crispEdges"/>
<rect x="262" y="24" width="26" height="1" fill="#ffffff" shape-rendering="crispEdges"/>
<g fill="#505050" shape-rendering="crispEdges"><rect x="270" y="8" width="1" height="13"/><rect x="268" y="19" width="14" height="1"/><rect x="269" y="9" width="3" height="1"/><rect x="280" y="18" width="1" height="3"/></g>
<rect x="276" y="6" width="1" height="12" fill="#108010" shape-rendering="crispEdges"/><rect x="274.5" y="8.5" width="4" height="7" fill="#50e050" stroke="#108010" shape-rendering="crispEdges"/>
<g fill="#505050" shape-rendering="crispEdges"><rect x="298" y="8" width="1" height="13"/><rect x="296" y="19" width="14" height="1"/><rect x="297" y="9" width="3" height="1"/><rect x="308" y="18" width="1" height="3"/></g>
<path d="M297 16.5 Q303 7 307 13.5 L309 15" fill="none" stroke="#30a030" stroke-width="1"/>
<rect x="319" y="2" width="1" height="23" fill="#a0a0a0" shape-rendering="crispEdges"/><rect x="320" y="2" width="1" height="23" fill="#ffffff" shape-rendering="crispEdges"/>
<line x1="338" y1="16" x2="343" y2="21" transform="translate(0,0)" stroke="#c89a10" stroke-width="3"/>
<circle cx="334" cy="11.6" r="5.5" fill="#d8f0ff" stroke="#2f74c0" stroke-width="1.3"/>
<rect x="331" y="11" width="6" height="1.6" fill="#3a80b0"/>
<rect x="333.2" y="8.6" width="1.6" height="6.4" fill="#3a80b0"/>
<line x1="338" y1="16" x2="343" y2="21" transform="translate(28,0)" stroke="#c89a10" stroke-width="3"/>
<circle cx="362" cy="11.6" r="5.5" fill="#d8f0ff" stroke="#2f74c0" stroke-width="1.3"/>
<rect x="359" y="11" width="6" height="1.6" fill="#3a80b0"/>
<rect x="384" y="6" width="8" height="8" fill="#30a020" shape-rendering="crispEdges"/><rect x="385" y="9" width="6" height="4" fill="#fff" shape-rendering="crispEdges"/>
<rect x="392" y="6" width="8" height="8" fill="#2050d0" shape-rendering="crispEdges"/><rect x="393" y="9" width="6" height="4" fill="#fff" shape-rendering="crispEdges"/>
<rect x="384" y="14" width="8" height="8" fill="#2050d0" shape-rendering="crispEdges"/><rect x="385" y="17" width="6" height="4" fill="#fff" shape-rendering="crispEdges"/>
<rect x="392" y="14" width="8" height="8" fill="#30a020" shape-rendering="crispEdges"/><rect x="393" y="17" width="6" height="4" fill="#fff" shape-rendering="crispEdges"/>
<rect x="409" y="2" width="1" height="23" fill="#808080" shape-rendering="crispEdges"/><rect x="410" y="2" width="1" height="23" fill="#ffffff" shape-rendering="crispEdges"/>
<rect x="414" y="2" width="25" height="22" fill="url(#chk)" shape-rendering="crispEdges"/>
<rect x="414" y="2" width="25" height="1" fill="#8c8c8c" shape-rendering="crispEdges"/>
<rect x="414" y="2" width="1" height="22" fill="#8c8c8c" shape-rendering="crispEdges"/>
<rect x="439" y="2" width="1" height="22" fill="#ffffff" shape-rendering="crispEdges"/>
<rect x="414" y="24" width="26" height="1" fill="#ffffff" shape-rendering="crispEdges"/>
<g fill="#505050" shape-rendering="crispEdges"><rect x="422" y="8" width="1" height="13"/><rect x="420" y="19" width="14" height="1"/><rect x="421" y="9" width="3" height="1"/><rect x="432" y="18" width="1" height="3"/></g>
<path d="M427.5 10 L431.5 13.5 L427.5 17 Z" fill="#50d050" stroke="#109010"/>
<rect x="442" y="2" width="25" height="22" fill="url(#chk)" shape-rendering="crispEdges"/>
<rect x="442" y="2" width="25" height="1" fill="#8c8c8c" shape-rendering="crispEdges"/>
<rect x="442" y="2" width="1" height="22" fill="#8c8c8c" shape-rendering="crispEdges"/>
<rect x="467" y="2" width="1" height="22" fill="#ffffff" shape-rendering="crispEdges"/>
<rect x="442" y="24" width="26" height="1" fill="#ffffff" shape-rendering="crispEdges"/>
<g fill="#505050" shape-rendering="crispEdges"><rect x="450" y="8" width="1" height="13"/><rect x="448" y="19" width="14" height="1"/><rect x="449" y="9" width="3" height="1"/><rect x="460" y="18" width="1" height="3"/></g>
<rect x="456" y="8" width="1" height="10" fill="#1070b0" shape-rendering="crispEdges"/><path d="M457.5 13.5 L461 11 L461 12.8 L463.5 12.8 L463.5 14.2 L461 14.2 L461 16 Z" fill="#e04000"/>
<rect x="471" y="2" width="1" height="23" fill="#a0a0a0" shape-rendering="crispEdges"/><rect x="472" y="2" width="1" height="23" fill="#ffffff" shape-rendering="crispEdges"/>
<path d="M481.5 6.5 h9 l3 3 v10 h-12 z" fill="#fdfdfd" stroke="#707070" stroke-width="1"/>
<path d="M485 9 v9" stroke="#705020" stroke-width="1"/>
<g shape-rendering="crispEdges"><rect x="489" y="12" width="4" height="12" fill="#0c8a0c"/><rect x="485" y="16" width="12" height="4" fill="#0c8a0c"/><rect x="490" y="13" width="2" height="10" fill="#3ee03e"/><rect x="486" y="17" width="10" height="2" fill="#3ee03e"/><rect x="490" y="13" width="2" height="3" fill="#8cff8c"/></g>
<polygon points="503,13 508,13 505.5,15.5" fill="#000"/>
<circle cx="527" cy="13.8" r="6.6" fill="url(#gclk)" stroke="#1565c8" stroke-width="2.8"/><circle cx="527" cy="13.8" r="8" fill="none" stroke="#0a4aa0" stroke-width="0.8"/><path d="M526.5 9 v5.3 h3" fill="none" stroke="#202020" stroke-width="1.2"/>
<polygon points="542,13 547,13 544.5,15.5" fill="#000"/>
<rect x="558.5" y="7.5" width="15" height="13" fill="#fff" stroke="#3070c0"/><rect x="559" y="8" width="14" height="2" fill="#5a90d8"/><rect x="559" y="14" width="14" height="1" fill="#3070c0"/>
<polyline points="560,13 562,12.5 564,11.5 566,12.5 568,11.5 571,11" fill="none" stroke="#a02010" stroke-width="1"/><polyline points="560,18.5 563,17.5 565,18.5 567,16 569,17 571,18" fill="none" stroke="#10a010" stroke-width="1"/>
<polygon points="581,13 586,13 583.5,15.5" fill="#000"/>
<rect x="592" y="2" width="1" height="23" fill="#808080" shape-rendering="crispEdges"/><rect x="593" y="2" width="1" height="23" fill="#ffffff" shape-rendering="crispEdges"/>
<rect x="596" y="4" width="3" height="1" fill="#a8a8a8" shape-rendering="crispEdges"/>
<rect x="596" y="6" width="3" height="1" fill="#a8a8a8" shape-rendering="crispEdges"/>
<rect x="596" y="8" width="3" height="1" fill="#a8a8a8" shape-rendering="crispEdges"/>
<rect x="596" y="10" width="3" height="1" fill="#a8a8a8" shape-rendering="crispEdges"/>
<rect x="596" y="12" width="3" height="1" fill="#a8a8a8" shape-rendering="crispEdges"/>
<rect x="596" y="14" width="3" height="1" fill="#a8a8a8" shape-rendering="crispEdges"/>
<rect x="596" y="16" width="3" height="1" fill="#a8a8a8" shape-rendering="crispEdges"/>
<rect x="596" y="18" width="3" height="1" fill="#a8a8a8" shape-rendering="crispEdges"/>
<rect x="596" y="20" width="3" height="1" fill="#a8a8a8" shape-rendering="crispEdges"/>
<rect x="596" y="22" width="3" height="1" fill="#a8a8a8" shape-rendering="crispEdges"/>
<rect x="602" y="2" width="25" height="22" fill="url(#chk)" shape-rendering="crispEdges"/>
<rect x="602" y="2" width="25" height="1" fill="#8c8c8c" shape-rendering="crispEdges"/>
<rect x="602" y="2" width="1" height="22" fill="#8c8c8c" shape-rendering="crispEdges"/>
<rect x="627" y="2" width="1" height="22" fill="#ffffff" shape-rendering="crispEdges"/>
<rect x="602" y="24" width="26" height="1" fill="#ffffff" shape-rendering="crispEdges"/>
<path d="M610.5 7 L610.5 18 L613 15.5 L615.5 21 L617 20.3 L614.8 15 L618 15 Z" fill="#404040"/>
<g fill="#404040" shape-rendering="crispEdges"><rect x="635" y="14" width="6" height="1"/><rect x="644" y="14" width="6" height="1"/><rect x="642" y="7" width="1" height="6"/><rect x="642" y="16" width="1" height="6"/></g>
<rect x="659" y="2" width="1" height="23" fill="#a0a0a0" shape-rendering="crispEdges"/><rect x="660" y="2" width="1" height="23" fill="#ffffff" shape-rendering="crispEdges"/>
<g fill="#404040" shape-rendering="crispEdges"><rect x="676" y="8" width="1" height="13"/><rect x="699" y="14" width="12" height="1"/></g>
<line x1="727" y1="20.5" x2="739" y2="8.5" stroke="#404040" stroke-width="1"/>
<g stroke="#404040" stroke-width="1" fill="none"><line x1="753" y1="16" x2="761" y2="8"/><line x1="755" y1="20" x2="766" y2="9"/><line x1="758" y1="21" x2="767" y2="12"/></g>
<text x="763.5" y="22.8" font-family="'Liberation Sans', 'Noto Sans CJK SC', sans-serif" font-size="7" font-weight="bold" fill="#404040">E</text>
<g fill="#505050" shape-rendering="crispEdges"><rect x="782" y="7" width="1" height="1"/><rect x="784" y="7" width="1" height="1"/><rect x="786" y="7" width="1" height="1"/><rect x="788" y="7" width="1" height="1"/><rect x="790" y="7" width="1" height="1"/><rect x="792" y="7" width="1" height="1"/><rect x="794" y="7" width="1" height="1"/><rect x="782" y="10" width="1" height="1"/><rect x="784" y="10" width="1" height="1"/><rect x="786" y="10" width="1" height="1"/><rect x="788" y="10" width="1" height="1"/><rect x="790" y="10" width="1" height="1"/><rect x="792" y="10" width="1" height="1"/><rect x="794" y="10" width="1" height="1"/><rect x="782" y="14" width="1" height="1"/><rect x="784" y="14" width="1" height="1"/><rect x="786" y="14" width="1" height="1"/><rect x="788" y="14" width="1" height="1"/><rect x="790" y="14" width="1" height="1"/><rect x="792" y="14" width="1" height="1"/><rect x="794" y="14" width="1" height="1"/><rect x="782" y="18" width="1" height="1"/><rect x="784" y="18" width="1" height="1"/><rect x="786" y="18" width="1" height="1"/><rect x="788" y="18" width="1" height="1"/><rect x="790" y="18" width="1" height="1"/></g>
<text x="791.5" y="22.8" font-family="'Liberation Sans', 'Noto Sans CJK SC', sans-serif" font-size="7" font-weight="bold" fill="#404040">F</text>
<text x="812" y="19" font-family="'Liberation Sans', 'Noto Sans CJK SC', sans-serif" font-size="12.5" font-weight="bold" fill="#505050">A</text>
<rect x="839.5" y="8.5" width="11" height="12" fill="none" stroke="#505050" stroke-dasharray="1,1" shape-rendering="crispEdges"/><rect x="838" y="7" width="2" height="2" fill="#505050"/>
<g fill="#505050" shape-rendering="crispEdges"><rect x="841" y="11" width="8" height="1.5"/><rect x="844.3" y="11" width="1.5" height="8"/></g>
<path d="M866 11.5 L869.5 8 L873 11.5 Z" fill="#505050"/><path d="M868 15 L870 17 L874 12.5" fill="none" stroke="#505050" stroke-width="1.2"/><path d="M873 17 L880 17 L876.5 21 Z" fill="#505050"/>
<polygon points="887,13 892,13 889.5,15.5" fill="#000"/>
<rect x="898" y="2" width="1" height="23" fill="#a0a0a0" shape-rendering="crispEdges"/><rect x="899" y="2" width="1" height="23" fill="#ffffff" shape-rendering="crispEdges"/>
<rect x="902" y="4" width="3" height="1" fill="#a8a8a8" shape-rendering="crispEdges"/>
<rect x="902" y="6" width="3" height="1" fill="#a8a8a8" shape-rendering="crispEdges"/>
<rect x="902" y="8" width="3" height="1" fill="#a8a8a8" shape-rendering="crispEdges"/>
<rect x="902" y="10" width="3" height="1" fill="#a8a8a8" shape-rendering="crispEdges"/>
<rect x="902" y="12" width="3" height="1" fill="#a8a8a8" shape-rendering="crispEdges"/>
<rect x="902" y="14" width="3" height="1" fill="#a8a8a8" shape-rendering="crispEdges"/>
<rect x="902" y="16" width="3" height="1" fill="#a8a8a8" shape-rendering="crispEdges"/>
<rect x="902" y="18" width="3" height="1" fill="#a8a8a8" shape-rendering="crispEdges"/>
<rect x="902" y="20" width="3" height="1" fill="#a8a8a8" shape-rendering="crispEdges"/>
<rect x="902" y="22" width="3" height="1" fill="#a8a8a8" shape-rendering="crispEdges"/>
<rect x="1048" y="2" width="25" height="22" fill="url(#chk)" shape-rendering="crispEdges"/>
<rect x="1048" y="2" width="25" height="1" fill="#8c8c8c" shape-rendering="crispEdges"/>
<rect x="1048" y="2" width="1" height="22" fill="#8c8c8c" shape-rendering="crispEdges"/>
<rect x="1073" y="2" width="1" height="22" fill="#ffffff" shape-rendering="crispEdges"/>
<rect x="1048" y="24" width="26" height="1" fill="#ffffff" shape-rendering="crispEdges"/>
<text x="912.5" y="18" font-family="'Liberation Sans', 'Noto Sans CJK SC', sans-serif" font-size="10" letter-spacing="0.8" fill="#383838">M1</text>
<text x="940" y="18" font-family="'Liberation Sans', 'Noto Sans CJK SC', sans-serif" font-size="10" letter-spacing="0.8" fill="#383838">M5</text>
<text x="966" y="18" font-family="'Liberation Sans', 'Noto Sans CJK SC', sans-serif" font-size="10" letter-spacing="0.8" fill="#383838">M15</text>
<text x="994" y="18" font-family="'Liberation Sans', 'Noto Sans CJK SC', sans-serif" font-size="10" letter-spacing="0.8" fill="#383838">M30</text>
<text x="1025" y="18" font-family="'Liberation Sans', 'Noto Sans CJK SC', sans-serif" font-size="10" letter-spacing="0.8" fill="#383838">H1</text>
<text x="1052" y="18" font-family="'Liberation Sans', 'Noto Sans CJK SC', sans-serif" font-size="10" letter-spacing="0.8" fill="#383838">H4</text>
<text x="1081" y="18" font-family="'Liberation Sans', 'Noto Sans CJK SC', sans-serif" font-size="10" letter-spacing="0.8" fill="#383838">D1</text>
<text x="1109" y="18" font-family="'Liberation Sans', 'Noto Sans CJK SC', sans-serif" font-size="10" letter-spacing="0.8" fill="#383838">W1</text>
<text x="1135" y="18" font-family="'Liberation Sans', 'Noto Sans CJK SC', sans-serif" font-size="10" letter-spacing="0.8" fill="#383838">MN</text>
<rect x="1159" y="2" width="1" height="23" fill="#a0a0a0" shape-rendering="crispEdges"/><rect x="1160" y="2" width="1" height="23" fill="#ffffff" shape-rendering="crispEdges"/>
<circle cx="1629.5" cy="11.3" r="3.8" fill="#fff" stroke="#2060d0" stroke-width="1.4"/><line x1="1627" y1="14" x2="1623" y2="18.5" stroke="#2060d0" stroke-width="2.2" stroke-linecap="round"/>
<ellipse cx="1662" cy="10.7" rx="6.2" ry="4.6" fill="#f6f6f8" stroke="#909090"/><path d="M1664 15 L1665.5 17.5 L1666 14.5" fill="#f6f6f8" stroke="#606060"/>
<ellipse cx="1653.2" cy="15.3" rx="4.8" ry="3.6" fill="#f6f6f8" stroke="#909090"/><path d="M1651 18.5 L1650.5 20.5 L1653 18.8" fill="#f6f6f8" stroke="#606060"/>
</svg>
<svg width="222" height="66" viewBox="0 0 222 66" style="position:absolute;left:0;top:48px">
<defs><linearGradient id="rtab" x1="0" y1="0" x2="0" y2="1"><stop offset="0" stop-color="#f85656"/><stop offset="1" stop-color="#e23636"/></linearGradient><linearGradient id="rlow" x1="0" y1="0" x2="0" y2="1"><stop offset="0" stop-color="#dc2e2e"/><stop offset="1" stop-color="#b00404"/></linearGradient></defs>
<g shape-rendering="crispEdges">
<rect x="0" y="2" width="221" height="64" fill="#fff"/>
<rect x="2" y="2" width="52" height="25" fill="#b00000"/>
<rect x="2" y="26" width="109" height="40" fill="#b00000"/>
<rect x="3" y="3" width="50" height="24" fill="url(#rtab)"/>
<rect x="3" y="27" width="107" height="38" fill="url(#rlow)"/>
<rect x="3" y="26" width="50" height="1" fill="#e23636"/>
<rect x="169" y="2" width="52" height="25" fill="#b00000"/>
<rect x="113" y="26" width="108" height="40" fill="#b00000"/>
<rect x="170" y="3" width="50" height="24" fill="url(#rtab)"/>
<rect x="114" y="27" width="106" height="38" fill="url(#rlow)"/>
<rect x="170" y="26" width="50" height="1" fill="#e23636"/>
<rect x="6" y="25" width="44" height="1" fill="#800000"/><rect x="6" y="26" width="44" height="1" fill="#f08a8a"/>
<rect x="173" y="25" width="44" height="1" fill="#800000"/><rect x="173" y="26" width="44" height="1" fill="#f08a8a"/>
<rect x="56" y="2" width="111" height="22" fill="#a8a8a8"/>
<rect x="57" y="3" width="20" height="20" fill="#e6e6e6"/>
<rect x="78" y="3" width="67" height="20" fill="#ffffff"/>
<rect x="146" y="3" width="20" height="20" fill="#e6e6e6"/>
</g>
<polygon points="63.5,11 69.5,11 66.5,14" fill="#000"/>
<polygon points="153.5,14 159.5,14 156.5,11" fill="#000"/>
<text x="143" y="17.5" text-anchor="end" font-family="'Liberation Sans', 'Noto Sans CJK SC', sans-serif" font-size="12" fill="#000">1.00</text>
<text x="14" y="18" font-family="'Liberation Sans', 'Noto Sans CJK SC', sans-serif" font-size="12" letter-spacing="-0.8" fill="#fff">SELL</text>
<text x="182" y="18" font-family="'Liberation Sans', 'Noto Sans CJK SC', sans-serif" font-size="12" fill="#fff">BUY</text>
<text x="17.5" y="56.8" font-family="'Liberation Sans', 'Noto Sans CJK SC', sans-serif" font-size="12" font-weight="bold" letter-spacing="0.3" fill="#fff">26712</text>
<text x="56.2" y="57.6" font-family="'Liberation Serif', serif" font-size="28" font-weight="bold" fill="#fff">.</text><text transform="translate(64,57.6) scale(0.82,1)" font-family="'Liberation Sans', 'Noto Sans CJK SC', sans-serif" font-size="33.5" fill="#fff">5</text>
<text x="127.5" y="56.8" font-family="'Liberation Sans', 'Noto Sans CJK SC', sans-serif" font-size="12" font-weight="bold" letter-spacing="0.3" fill="#fff">26725</text>
<text x="167.4" y="57.6" font-family="'Liberation Serif', serif" font-size="28" font-weight="bold" fill="#fff">.</text><text transform="translate(175,57.6) scale(0.82,1)" font-family="'Liberation Sans', 'Noto Sans CJK SC', sans-serif" font-size="33.5" fill="#fff">5</text>
</svg>
</body></html>
